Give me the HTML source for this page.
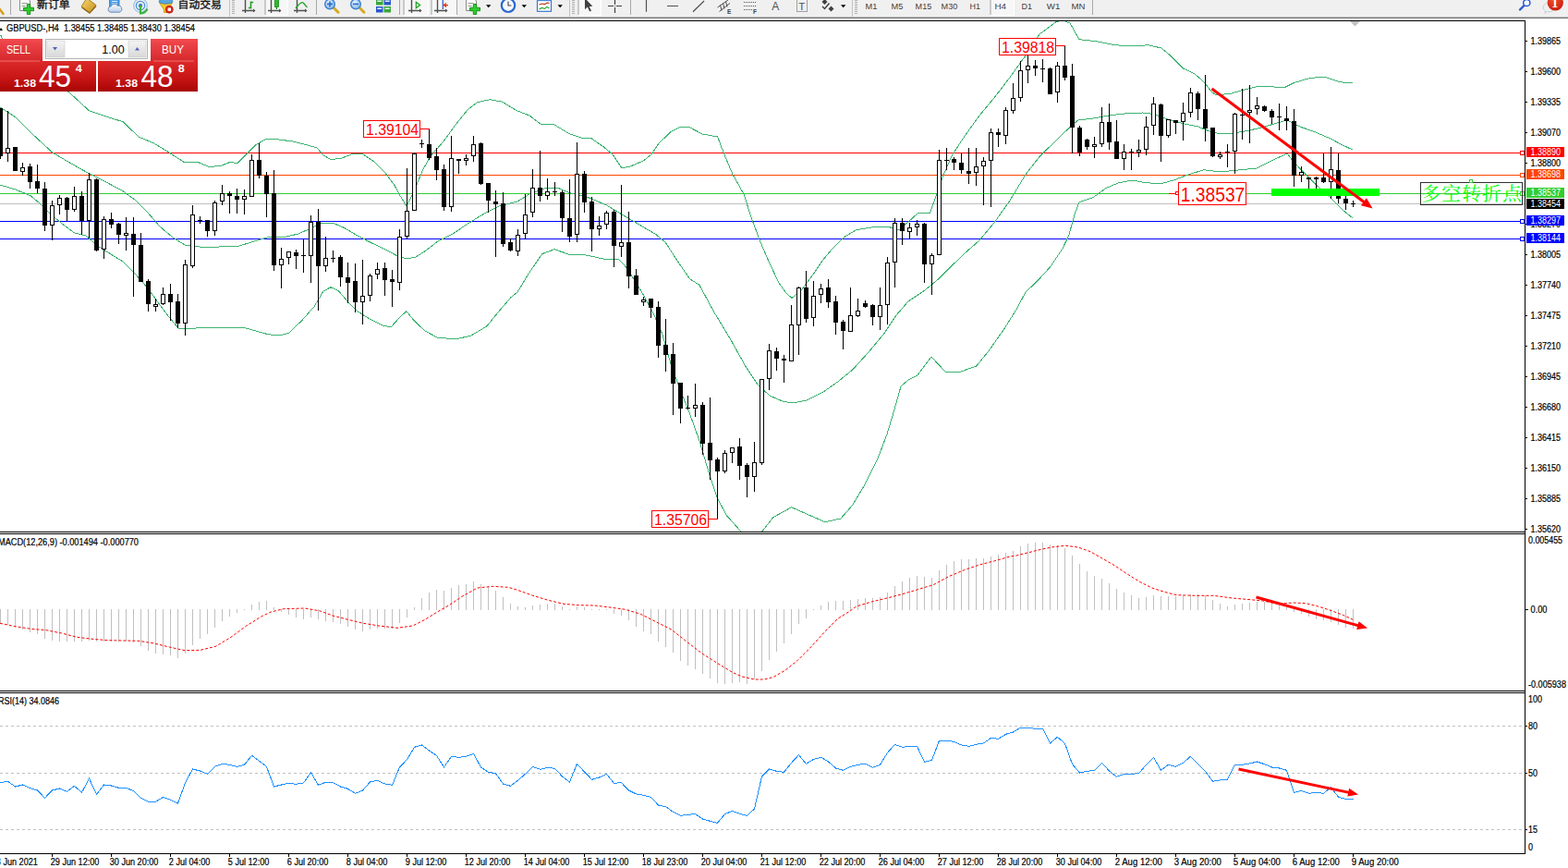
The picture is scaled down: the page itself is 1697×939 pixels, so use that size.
<!DOCTYPE html>
<html><head><meta charset="utf-8"><title>GBPUSD H4</title>
<style>
html,body{margin:0;padding:0;background:#fff;width:1697px;height:939px;overflow:hidden}
svg{position:absolute;left:0;top:0;display:block}
text{font-family:"Liberation Sans",sans-serif}
text.s{font-family:"Liberation Sans",sans-serif}
text.r{font-family:"Liberation Serif",serif}
text.c{font-family:"Liberation Sans","Noto Sans CJK SC",sans-serif}
text.cs{font-family:"Liberation Serif","Noto Serif CJK SC",serif}
</style></head><body>
<svg width="1697" height="939" viewBox="0 0 1697 939">
<rect x="0" y="0" width="1697" height="939" fill="#fff"/>
<g shape-rendering="crispEdges">
<rect x="0" y="22" width="1651" height="1" fill="#000"/>
<rect x="1650" y="22" width="1" height="902" fill="#000"/>
<rect x="0" y="575" width="1651" height="1" fill="#000"/>
<rect x="0" y="577" width="1651" height="1" fill="#000"/>
<rect x="0" y="747" width="1651" height="1" fill="#000"/>
<rect x="0" y="749" width="1651" height="1" fill="#000"/>
<rect x="0" y="923" width="1651" height="1" fill="#000"/>
<rect x="0" y="165" width="1650" height="1" fill="#ff0000"/>
<rect x="0" y="189" width="1650" height="1" fill="#ff4500"/>
<rect x="0" y="209" width="1650" height="1" fill="#32cd32"/>
<rect x="0" y="220" width="1650" height="1" fill="#c0c0c0"/>
<rect x="0" y="239" width="1650" height="1" fill="#0000ff"/>
<rect x="0" y="258" width="1650" height="1" fill="#0000ff"/>
</g>
<defs><clipPath id="mainclip"><rect x="0" y="23" width="1650" height="552"/></clipPath></defs><g id="bb" clip-path="url(#mainclip)">
<polyline points="-1.0,38.5 1.4,38.5 2.5,43.0 40.0,70.0 76.0,101.0 96.7,120.0 116.7,126.7 133.0,131.7 150.0,148.0 166.7,155.0 183.0,165.0 200.0,176.0 213.0,175.0 226.7,180.7 240.0,179.0 250.0,175.0 256.7,177.0 266.7,167.0 276.7,156.7 286.7,151.0 300.0,150.7 316.7,153.0 333.0,157.0 343.0,160.0 350.0,168.0 358.0,172.7 370.0,171.0 383.0,166.0 393.0,167.0 405.0,175.0 416.7,186.7 426.7,200.0 433.0,211.7 440.0,223.0 448.0,206.7 458.0,183.0 466.7,168.0 480.0,153.0 493.0,135.0 506.7,118.0 516.7,110.7 530.0,107.7 543.0,110.0 560.0,120.0 573.0,125.0 585.0,134.0 600.0,135.0 616.7,145.0 631.7,150.0 640.0,149.7 653.0,158.7 663.0,167.0 673.0,182.0 683.0,179.7 696.7,173.7 705.0,167.0 713.0,155.0 726.7,142.0 736.7,137.0 745.0,137.0 760.0,145.0 776.7,148.0 783.0,165.0 793.0,188.7 805.0,210.0 813.0,235.0 823.0,262.0 833.0,285.0 843.0,306.0 850.0,316.0 857.0,322.5 866.7,314.7 880.0,297.0 890.0,282.0 900.0,270.0 913.0,257.0 926.7,248.7 943.0,246.0 960.0,245.0 973.0,248.7 983.0,240.0 993.0,231.0 1006.7,230.0 1013.0,212.0 1020.0,192.0 1030.0,168.7 1043.0,148.7 1060.0,125.0 1076.7,105.0 1093.0,83.7 1110.0,60.0 1125.0,37.0 1143.0,23.7 1150.0,22.0 1158.0,25.0 1168.0,42.7 1186.7,44.7 1206.7,48.7 1226.7,50.0 1243.0,48.7 1256.7,52.0 1266.7,60.0 1280.0,73.7 1293.0,80.0 1303.0,88.7 1311.7,100.0 1316.7,103.0 1333.0,101.0 1346.7,97.0 1363.0,93.0 1390.0,94.7 1400.0,89.7 1416.7,84.7 1433.0,83.0 1450.0,88.7 1464.0,90.0" fill="none" stroke="#3cb371" stroke-width="1" shape-rendering="crispEdges"/>
<polyline points="0.0,116.0 16.7,126.7 33.0,143.0 56.7,165.0 76.7,176.7 96.7,188.0 116.7,198.0 133.0,206.7 146.7,216.7 160.0,230.0 173.0,245.0 186.7,256.7 200.0,265.0 213.0,266.7 226.7,268.0 240.0,266.7 256.7,266.7 273.0,261.7 290.0,256.7 306.7,256.7 323.0,253.0 336.7,246.7 346.7,241.7 360.0,241.0 373.0,246.7 386.7,255.0 400.0,261.7 416.7,270.0 430.0,276.7 440.0,280.0 450.0,278.0 460.0,271.7 473.0,261.7 490.0,253.0 506.7,241.7 523.0,231.7 540.0,223.0 560.0,218.0 573.0,210.0 590.0,203.7 603.0,203.0 616.7,208.7 636.7,213.7 656.7,222.0 673.0,232.0 693.0,243.7 710.0,253.7 720.0,262.0 733.0,282.0 746.7,302.0 756.7,308.0 773.0,338.0 790.0,366.0 806.7,396.0 820.0,416.0 833.0,428.0 846.7,434.0 858.0,436.0 873.0,433.0 890.0,424.7 906.7,413.0 923.0,399.7 940.0,381.0 956.7,361.0 970.0,341.0 983.0,326.0 1000.0,314.7 1016.7,301.0 1033.0,284.7 1043.0,275.0 1060.0,260.0 1076.7,240.0 1093.0,217.0 1110.0,188.7 1125.7,168.7 1143.0,152.0 1156.7,138.7 1166.7,130.0 1183.0,128.0 1200.0,125.0 1216.7,123.0 1236.7,122.0 1250.0,123.7 1263.0,128.7 1280.0,133.7 1296.7,137.0 1313.0,143.7 1330.0,145.0 1346.7,142.0 1363.0,138.7 1380.0,133.7 1393.0,130.0 1406.7,137.0 1423.0,142.7 1440.0,150.0 1453.0,157.0 1464.0,162.0" fill="none" stroke="#3cb371" stroke-width="1" shape-rendering="crispEdges"/>
<polyline points="0.0,200.0 16.7,205.0 33.0,211.7 43.0,220.0 53.0,230.0 66.7,241.7 80.0,251.7 93.0,255.0 106.7,266.7 120.0,275.0 133.0,283.0 146.7,296.7 160.0,311.7 173.0,330.0 183.0,343.0 193.0,355.0 206.7,355.7 220.0,354.0 233.0,355.0 250.0,354.0 263.0,354.0 276.7,358.0 290.0,361.7 303.0,363.0 313.0,360.0 326.7,346.7 340.0,331.7 350.0,315.0 358.0,310.7 366.7,315.0 376.7,326.7 386.7,336.7 400.0,345.0 413.0,351.7 423.0,354.0 433.0,343.0 440.0,336.7 448.0,346.7 460.0,358.0 473.0,365.0 493.0,367.0 510.0,363.0 526.7,353.0 540.0,336.7 553.0,321.7 560.0,316.0 573.0,294.7 586.7,274.7 600.0,269.7 618.0,276.0 633.0,275.7 653.0,280.0 670.0,281.0 676.7,288.0 686.7,303.0 696.7,319.7 706.7,338.0 716.7,361.0 726.7,396.0 736.7,423.0 746.7,448.0 756.7,476.0 766.7,509.7 776.7,539.7 786.7,558.0 801.7,574.7 813.0,580.0 825.0,574.7 836.7,559.7 856.7,548.7 873.0,556.0 893.0,564.7 910.0,561.0 923.0,546.0 936.7,523.0 950.0,496.0 960.0,469.7 968.0,443.0 975.0,418.0 983.0,411.0 993.0,406.0 1008.0,386.0 1023.0,402.0 1040.0,402.0 1056.7,396.0 1070.0,379.7 1086.7,356.0 1100.0,334.7 1110.0,316.0 1123.0,303.7 1136.7,288.7 1150.0,268.7 1156.7,255.0 1163.0,232.0 1168.0,218.7 1183.0,213.7 1196.7,203.7 1210.0,198.0 1225.0,195.0 1240.0,197.7 1256.7,198.7 1270.0,195.0 1286.7,188.7 1303.0,183.7 1320.0,186.0 1340.0,184.0 1360.0,182.0 1376.7,173.7 1393.0,166.0 1400.0,175.0 1413.0,188.7 1426.7,202.0 1440.0,213.7 1453.0,227.0 1464.0,236.0" fill="none" stroke="#3cb371" stroke-width="1" shape-rendering="crispEdges"/>
</g>
<g shape-rendering="crispEdges" id="candles">
<rect x="0" y="117" width="1" height="55" fill="#000"/>
<rect x="-2" y="117" width="5" height="52" fill="#000"/>
<rect x="8" y="120" width="1" height="55" fill="#000"/>
<rect x="6" y="160" width="5" height="6" fill="#000"/>
<rect x="7" y="161" width="3" height="4" fill="#fff"/>
<rect x="16" y="159" width="1" height="26" fill="#000"/>
<rect x="14" y="159" width="5" height="26" fill="#000"/>
<rect x="24" y="176" width="1" height="14" fill="#000"/>
<rect x="22" y="181" width="5" height="5" fill="#000"/>
<rect x="23" y="182" width="3" height="3" fill="#fff"/>
<rect x="32" y="177" width="1" height="27" fill="#000"/>
<rect x="30" y="180" width="5" height="17" fill="#000"/>
<rect x="40" y="178" width="1" height="31" fill="#000"/>
<rect x="38" y="196" width="5" height="8" fill="#000"/>
<rect x="48" y="197" width="1" height="53" fill="#000"/>
<rect x="46" y="204" width="5" height="40" fill="#000"/>
<rect x="56" y="217" width="1" height="43" fill="#000"/>
<rect x="54" y="222" width="5" height="22" fill="#000"/>
<rect x="55" y="223" width="3" height="20" fill="#fff"/>
<rect x="64" y="211" width="1" height="21" fill="#000"/>
<rect x="62" y="214" width="5" height="8" fill="#000"/>
<rect x="63" y="215" width="3" height="6" fill="#fff"/>
<rect x="72" y="213" width="1" height="26" fill="#000"/>
<rect x="70" y="214" width="5" height="13" fill="#000"/>
<rect x="80" y="202" width="1" height="27" fill="#000"/>
<rect x="78" y="212" width="5" height="15" fill="#000"/>
<rect x="79" y="213" width="3" height="13" fill="#fff"/>
<rect x="88" y="207" width="1" height="47" fill="#000"/>
<rect x="86" y="212" width="5" height="27" fill="#000"/>
<rect x="96" y="187" width="1" height="71" fill="#000"/>
<rect x="94" y="194" width="5" height="45" fill="#000"/>
<rect x="95" y="195" width="3" height="43" fill="#fff"/>
<rect x="104" y="193" width="1" height="79" fill="#000"/>
<rect x="102" y="194" width="5" height="77" fill="#000"/>
<rect x="112" y="234" width="1" height="46" fill="#000"/>
<rect x="110" y="237" width="5" height="33" fill="#000"/>
<rect x="111" y="238" width="3" height="31" fill="#fff"/>
<rect x="120" y="230" width="1" height="17" fill="#000"/>
<rect x="118" y="237" width="5" height="6" fill="#000"/>
<rect x="128" y="241" width="1" height="23" fill="#000"/>
<rect x="126" y="242" width="5" height="12" fill="#000"/>
<rect x="136" y="235" width="1" height="36" fill="#000"/>
<rect x="134" y="252" width="5" height="3" fill="#000"/>
<rect x="135" y="253" width="3" height="1" fill="#fff"/>
<rect x="144" y="235" width="1" height="86" fill="#000"/>
<rect x="142" y="253" width="5" height="12" fill="#000"/>
<rect x="152" y="252" width="1" height="53" fill="#000"/>
<rect x="150" y="265" width="5" height="40" fill="#000"/>
<rect x="160" y="302" width="1" height="35" fill="#000"/>
<rect x="158" y="304" width="5" height="25" fill="#000"/>
<rect x="168" y="323" width="1" height="14" fill="#000"/>
<rect x="166" y="329" width="5" height="3" fill="#000"/>
<rect x="167" y="330" width="3" height="1" fill="#fff"/>
<rect x="176" y="311" width="1" height="19" fill="#000"/>
<rect x="174" y="318" width="5" height="11" fill="#000"/>
<rect x="175" y="319" width="3" height="9" fill="#fff"/>
<rect x="184" y="307" width="1" height="40" fill="#000"/>
<rect x="182" y="318" width="5" height="9" fill="#000"/>
<rect x="192" y="318" width="1" height="37" fill="#000"/>
<rect x="190" y="326" width="5" height="24" fill="#000"/>
<rect x="200" y="281" width="1" height="82" fill="#000"/>
<rect x="198" y="286" width="5" height="64" fill="#000"/>
<rect x="199" y="287" width="3" height="62" fill="#fff"/>
<rect x="208" y="222" width="1" height="68" fill="#000"/>
<rect x="206" y="232" width="5" height="56" fill="#000"/>
<rect x="207" y="233" width="3" height="54" fill="#fff"/>
<rect x="216" y="234" width="1" height="8" fill="#000"/>
<rect x="214" y="238" width="5" height="1" fill="#000"/>
<rect x="224" y="238" width="1" height="18" fill="#000"/>
<rect x="222" y="238" width="5" height="12" fill="#000"/>
<rect x="232" y="217" width="1" height="38" fill="#000"/>
<rect x="230" y="219" width="5" height="31" fill="#000"/>
<rect x="231" y="220" width="3" height="29" fill="#fff"/>
<rect x="240" y="200" width="1" height="22" fill="#000"/>
<rect x="238" y="209" width="5" height="9" fill="#000"/>
<rect x="239" y="210" width="3" height="7" fill="#fff"/>
<rect x="248" y="207" width="1" height="24" fill="#000"/>
<rect x="246" y="209" width="5" height="3" fill="#000"/>
<rect x="256" y="204" width="1" height="27" fill="#000"/>
<rect x="254" y="212" width="5" height="4" fill="#000"/>
<rect x="264" y="205" width="1" height="27" fill="#000"/>
<rect x="262" y="212" width="5" height="4" fill="#000"/>
<rect x="263" y="213" width="3" height="2" fill="#fff"/>
<rect x="272" y="167" width="1" height="46" fill="#000"/>
<rect x="270" y="173" width="5" height="40" fill="#000"/>
<rect x="271" y="174" width="3" height="38" fill="#fff"/>
<rect x="280" y="155" width="1" height="38" fill="#000"/>
<rect x="278" y="173" width="5" height="17" fill="#000"/>
<rect x="288" y="186" width="1" height="49" fill="#000"/>
<rect x="286" y="190" width="5" height="20" fill="#000"/>
<rect x="296" y="184" width="1" height="109" fill="#000"/>
<rect x="294" y="209" width="5" height="78" fill="#000"/>
<rect x="304" y="268" width="1" height="44" fill="#000"/>
<rect x="302" y="280" width="5" height="7" fill="#000"/>
<rect x="303" y="281" width="3" height="5" fill="#fff"/>
<rect x="312" y="272" width="1" height="14" fill="#000"/>
<rect x="310" y="272" width="5" height="7" fill="#000"/>
<rect x="311" y="273" width="3" height="5" fill="#fff"/>
<rect x="320" y="270" width="1" height="21" fill="#000"/>
<rect x="318" y="273" width="5" height="4" fill="#000"/>
<rect x="328" y="259" width="1" height="36" fill="#000"/>
<rect x="326" y="276" width="5" height="1" fill="#000"/>
<rect x="336" y="233" width="1" height="73" fill="#000"/>
<rect x="334" y="240" width="5" height="37" fill="#000"/>
<rect x="335" y="241" width="3" height="35" fill="#fff"/>
<rect x="344" y="226" width="1" height="110" fill="#000"/>
<rect x="342" y="240" width="5" height="48" fill="#000"/>
<rect x="352" y="256" width="1" height="38" fill="#000"/>
<rect x="350" y="279" width="5" height="9" fill="#000"/>
<rect x="351" y="280" width="3" height="7" fill="#fff"/>
<rect x="360" y="271" width="1" height="13" fill="#000"/>
<rect x="358" y="279" width="5" height="1" fill="#000"/>
<rect x="368" y="276" width="1" height="34" fill="#000"/>
<rect x="366" y="278" width="5" height="22" fill="#000"/>
<rect x="376" y="284" width="1" height="44" fill="#000"/>
<rect x="374" y="300" width="5" height="6" fill="#000"/>
<rect x="384" y="285" width="1" height="53" fill="#000"/>
<rect x="382" y="304" width="5" height="23" fill="#000"/>
<rect x="392" y="281" width="1" height="70" fill="#000"/>
<rect x="390" y="320" width="5" height="7" fill="#000"/>
<rect x="391" y="321" width="3" height="5" fill="#fff"/>
<rect x="400" y="296" width="1" height="30" fill="#000"/>
<rect x="398" y="298" width="5" height="22" fill="#000"/>
<rect x="399" y="299" width="3" height="20" fill="#fff"/>
<rect x="408" y="284" width="1" height="18" fill="#000"/>
<rect x="406" y="291" width="5" height="6" fill="#000"/>
<rect x="407" y="292" width="3" height="4" fill="#fff"/>
<rect x="416" y="284" width="1" height="36" fill="#000"/>
<rect x="414" y="290" width="5" height="13" fill="#000"/>
<rect x="424" y="292" width="1" height="40" fill="#000"/>
<rect x="422" y="302" width="5" height="3" fill="#000"/>
<rect x="432" y="248" width="1" height="66" fill="#000"/>
<rect x="430" y="256" width="5" height="50" fill="#000"/>
<rect x="431" y="257" width="3" height="48" fill="#fff"/>
<rect x="440" y="182" width="1" height="76" fill="#000"/>
<rect x="438" y="228" width="5" height="28" fill="#000"/>
<rect x="439" y="229" width="3" height="26" fill="#fff"/>
<rect x="448" y="165" width="1" height="63" fill="#000"/>
<rect x="446" y="166" width="5" height="62" fill="#000"/>
<rect x="447" y="167" width="3" height="60" fill="#fff"/>
<rect x="456" y="151" width="1" height="9" fill="#000"/>
<rect x="454" y="155" width="5" height="1" fill="#000"/>
<rect x="464" y="140" width="1" height="33" fill="#000"/>
<rect x="462" y="156" width="5" height="15" fill="#000"/>
<rect x="472" y="160" width="1" height="35" fill="#000"/>
<rect x="470" y="169" width="5" height="15" fill="#000"/>
<rect x="480" y="178" width="1" height="50" fill="#000"/>
<rect x="478" y="183" width="5" height="41" fill="#000"/>
<rect x="488" y="147" width="1" height="82" fill="#000"/>
<rect x="486" y="171" width="5" height="53" fill="#000"/>
<rect x="487" y="172" width="3" height="51" fill="#fff"/>
<rect x="496" y="172" width="1" height="16" fill="#000"/>
<rect x="494" y="172" width="5" height="2" fill="#000"/>
<rect x="504" y="167" width="1" height="12" fill="#000"/>
<rect x="502" y="171" width="5" height="3" fill="#000"/>
<rect x="503" y="172" width="3" height="1" fill="#fff"/>
<rect x="512" y="147" width="1" height="28" fill="#000"/>
<rect x="510" y="156" width="5" height="13" fill="#000"/>
<rect x="511" y="157" width="3" height="11" fill="#fff"/>
<rect x="520" y="154" width="1" height="46" fill="#000"/>
<rect x="518" y="155" width="5" height="44" fill="#000"/>
<rect x="528" y="198" width="1" height="32" fill="#000"/>
<rect x="526" y="198" width="5" height="19" fill="#000"/>
<rect x="536" y="206" width="1" height="72" fill="#000"/>
<rect x="534" y="218" width="5" height="3" fill="#000"/>
<rect x="544" y="208" width="1" height="59" fill="#000"/>
<rect x="542" y="220" width="5" height="44" fill="#000"/>
<rect x="552" y="258" width="1" height="14" fill="#000"/>
<rect x="550" y="262" width="5" height="9" fill="#000"/>
<rect x="560" y="248" width="1" height="29" fill="#000"/>
<rect x="558" y="254" width="5" height="18" fill="#000"/>
<rect x="559" y="255" width="3" height="16" fill="#fff"/>
<rect x="568" y="210" width="1" height="49" fill="#000"/>
<rect x="566" y="232" width="5" height="21" fill="#000"/>
<rect x="567" y="233" width="3" height="19" fill="#fff"/>
<rect x="576" y="183" width="1" height="52" fill="#000"/>
<rect x="574" y="203" width="5" height="27" fill="#000"/>
<rect x="575" y="204" width="3" height="25" fill="#fff"/>
<rect x="584" y="163" width="1" height="55" fill="#000"/>
<rect x="582" y="203" width="5" height="9" fill="#000"/>
<rect x="592" y="193" width="1" height="23" fill="#000"/>
<rect x="590" y="207" width="5" height="5" fill="#000"/>
<rect x="591" y="208" width="3" height="3" fill="#fff"/>
<rect x="600" y="197" width="1" height="15" fill="#000"/>
<rect x="598" y="207" width="5" height="1" fill="#000"/>
<rect x="608" y="206" width="1" height="45" fill="#000"/>
<rect x="606" y="208" width="5" height="28" fill="#000"/>
<rect x="616" y="194" width="1" height="68" fill="#000"/>
<rect x="614" y="236" width="5" height="20" fill="#000"/>
<rect x="624" y="154" width="1" height="108" fill="#000"/>
<rect x="622" y="188" width="5" height="66" fill="#000"/>
<rect x="623" y="189" width="3" height="64" fill="#fff"/>
<rect x="632" y="185" width="1" height="45" fill="#000"/>
<rect x="630" y="188" width="5" height="31" fill="#000"/>
<rect x="640" y="213" width="1" height="59" fill="#000"/>
<rect x="638" y="218" width="5" height="30" fill="#000"/>
<rect x="648" y="234" width="1" height="21" fill="#000"/>
<rect x="646" y="244" width="5" height="4" fill="#000"/>
<rect x="647" y="245" width="3" height="2" fill="#fff"/>
<rect x="656" y="228" width="1" height="20" fill="#000"/>
<rect x="654" y="230" width="5" height="13" fill="#000"/>
<rect x="655" y="231" width="3" height="11" fill="#fff"/>
<rect x="664" y="227" width="1" height="62" fill="#000"/>
<rect x="662" y="229" width="5" height="37" fill="#000"/>
<rect x="672" y="200" width="1" height="78" fill="#000"/>
<rect x="670" y="262" width="5" height="5" fill="#000"/>
<rect x="671" y="263" width="3" height="3" fill="#fff"/>
<rect x="680" y="229" width="1" height="83" fill="#000"/>
<rect x="678" y="262" width="5" height="37" fill="#000"/>
<rect x="688" y="291" width="1" height="28" fill="#000"/>
<rect x="686" y="298" width="5" height="21" fill="#000"/>
<rect x="696" y="321" width="1" height="10" fill="#000"/>
<rect x="694" y="324" width="5" height="3" fill="#000"/>
<rect x="695" y="325" width="3" height="1" fill="#fff"/>
<rect x="704" y="323" width="1" height="21" fill="#000"/>
<rect x="702" y="323" width="5" height="10" fill="#000"/>
<rect x="712" y="326" width="1" height="61" fill="#000"/>
<rect x="710" y="332" width="5" height="42" fill="#000"/>
<rect x="720" y="345" width="1" height="57" fill="#000"/>
<rect x="718" y="373" width="5" height="11" fill="#000"/>
<rect x="728" y="371" width="1" height="78" fill="#000"/>
<rect x="726" y="383" width="5" height="32" fill="#000"/>
<rect x="736" y="414" width="1" height="44" fill="#000"/>
<rect x="734" y="414" width="5" height="28" fill="#000"/>
<rect x="744" y="428" width="1" height="15" fill="#000"/>
<rect x="742" y="441" width="5" height="1" fill="#000"/>
<rect x="752" y="415" width="1" height="36" fill="#000"/>
<rect x="750" y="438" width="5" height="4" fill="#000"/>
<rect x="751" y="439" width="3" height="2" fill="#fff"/>
<rect x="760" y="435" width="1" height="57" fill="#000"/>
<rect x="758" y="438" width="5" height="42" fill="#000"/>
<rect x="768" y="430" width="1" height="89" fill="#000"/>
<rect x="766" y="479" width="5" height="19" fill="#000"/>
<rect x="776" y="495" width="1" height="67" fill="#000"/>
<rect x="774" y="497" width="5" height="13" fill="#000"/>
<rect x="784" y="487" width="1" height="25" fill="#000"/>
<rect x="782" y="490" width="5" height="20" fill="#000"/>
<rect x="783" y="491" width="3" height="18" fill="#fff"/>
<rect x="792" y="484" width="1" height="17" fill="#000"/>
<rect x="790" y="484" width="5" height="6" fill="#000"/>
<rect x="791" y="485" width="3" height="4" fill="#fff"/>
<rect x="800" y="474" width="1" height="45" fill="#000"/>
<rect x="798" y="483" width="5" height="21" fill="#000"/>
<rect x="808" y="501" width="1" height="37" fill="#000"/>
<rect x="806" y="503" width="5" height="13" fill="#000"/>
<rect x="816" y="478" width="1" height="54" fill="#000"/>
<rect x="814" y="500" width="5" height="16" fill="#000"/>
<rect x="815" y="501" width="3" height="14" fill="#fff"/>
<rect x="824" y="410" width="1" height="93" fill="#000"/>
<rect x="822" y="410" width="5" height="91" fill="#000"/>
<rect x="823" y="411" width="3" height="89" fill="#fff"/>
<rect x="832" y="372" width="1" height="50" fill="#000"/>
<rect x="830" y="379" width="5" height="31" fill="#000"/>
<rect x="831" y="380" width="3" height="29" fill="#fff"/>
<rect x="840" y="376" width="1" height="25" fill="#000"/>
<rect x="838" y="380" width="5" height="8" fill="#000"/>
<rect x="848" y="384" width="1" height="30" fill="#000"/>
<rect x="846" y="388" width="5" height="2" fill="#000"/>
<rect x="856" y="330" width="1" height="61" fill="#000"/>
<rect x="854" y="351" width="5" height="40" fill="#000"/>
<rect x="855" y="352" width="3" height="38" fill="#fff"/>
<rect x="864" y="310" width="1" height="74" fill="#000"/>
<rect x="862" y="311" width="5" height="41" fill="#000"/>
<rect x="863" y="312" width="3" height="39" fill="#fff"/>
<rect x="872" y="293" width="1" height="56" fill="#000"/>
<rect x="870" y="311" width="5" height="34" fill="#000"/>
<rect x="880" y="304" width="1" height="49" fill="#000"/>
<rect x="878" y="320" width="5" height="24" fill="#000"/>
<rect x="879" y="321" width="3" height="22" fill="#fff"/>
<rect x="888" y="307" width="1" height="21" fill="#000"/>
<rect x="886" y="312" width="5" height="7" fill="#000"/>
<rect x="887" y="313" width="3" height="5" fill="#fff"/>
<rect x="896" y="302" width="1" height="31" fill="#000"/>
<rect x="894" y="311" width="5" height="16" fill="#000"/>
<rect x="904" y="320" width="1" height="42" fill="#000"/>
<rect x="902" y="326" width="5" height="23" fill="#000"/>
<rect x="912" y="346" width="1" height="32" fill="#000"/>
<rect x="910" y="348" width="5" height="10" fill="#000"/>
<rect x="920" y="311" width="1" height="48" fill="#000"/>
<rect x="918" y="341" width="5" height="18" fill="#000"/>
<rect x="919" y="342" width="3" height="16" fill="#fff"/>
<rect x="928" y="323" width="1" height="20" fill="#000"/>
<rect x="926" y="336" width="5" height="6" fill="#000"/>
<rect x="927" y="337" width="3" height="4" fill="#fff"/>
<rect x="936" y="325" width="1" height="8" fill="#000"/>
<rect x="934" y="328" width="5" height="4" fill="#000"/>
<rect x="944" y="329" width="1" height="23" fill="#000"/>
<rect x="942" y="330" width="5" height="13" fill="#000"/>
<rect x="952" y="311" width="1" height="46" fill="#000"/>
<rect x="950" y="330" width="5" height="13" fill="#000"/>
<rect x="951" y="331" width="3" height="11" fill="#fff"/>
<rect x="960" y="278" width="1" height="73" fill="#000"/>
<rect x="958" y="284" width="5" height="46" fill="#000"/>
<rect x="959" y="285" width="3" height="44" fill="#fff"/>
<rect x="968" y="236" width="1" height="75" fill="#000"/>
<rect x="966" y="241" width="5" height="43" fill="#000"/>
<rect x="967" y="242" width="3" height="41" fill="#fff"/>
<rect x="976" y="236" width="1" height="29" fill="#000"/>
<rect x="974" y="241" width="5" height="9" fill="#000"/>
<rect x="984" y="241" width="1" height="18" fill="#000"/>
<rect x="982" y="246" width="5" height="5" fill="#000"/>
<rect x="983" y="247" width="3" height="3" fill="#fff"/>
<rect x="992" y="238" width="1" height="17" fill="#000"/>
<rect x="990" y="242" width="5" height="4" fill="#000"/>
<rect x="991" y="243" width="3" height="2" fill="#fff"/>
<rect x="1000" y="241" width="1" height="65" fill="#000"/>
<rect x="998" y="242" width="5" height="44" fill="#000"/>
<rect x="1008" y="274" width="1" height="45" fill="#000"/>
<rect x="1006" y="276" width="5" height="10" fill="#000"/>
<rect x="1007" y="277" width="3" height="8" fill="#fff"/>
<rect x="1016" y="162" width="1" height="114" fill="#000"/>
<rect x="1014" y="173" width="5" height="103" fill="#000"/>
<rect x="1015" y="174" width="3" height="101" fill="#fff"/>
<rect x="1024" y="160" width="1" height="24" fill="#000"/>
<rect x="1022" y="173" width="5" height="1" fill="#000"/>
<rect x="1032" y="170" width="1" height="14" fill="#000"/>
<rect x="1030" y="172" width="5" height="4" fill="#000"/>
<rect x="1040" y="166" width="1" height="22" fill="#000"/>
<rect x="1038" y="176" width="5" height="8" fill="#000"/>
<rect x="1048" y="160" width="1" height="39" fill="#000"/>
<rect x="1046" y="185" width="5" height="3" fill="#000"/>
<rect x="1056" y="160" width="1" height="41" fill="#000"/>
<rect x="1054" y="180" width="5" height="7" fill="#000"/>
<rect x="1055" y="181" width="3" height="5" fill="#fff"/>
<rect x="1064" y="170" width="1" height="52" fill="#000"/>
<rect x="1062" y="174" width="5" height="6" fill="#000"/>
<rect x="1063" y="175" width="3" height="4" fill="#fff"/>
<rect x="1072" y="139" width="1" height="85" fill="#000"/>
<rect x="1070" y="143" width="5" height="31" fill="#000"/>
<rect x="1071" y="144" width="3" height="29" fill="#fff"/>
<rect x="1080" y="139" width="1" height="20" fill="#000"/>
<rect x="1078" y="143" width="5" height="3" fill="#000"/>
<rect x="1088" y="116" width="1" height="40" fill="#000"/>
<rect x="1086" y="119" width="5" height="28" fill="#000"/>
<rect x="1087" y="120" width="3" height="26" fill="#fff"/>
<rect x="1096" y="90" width="1" height="33" fill="#000"/>
<rect x="1094" y="106" width="5" height="14" fill="#000"/>
<rect x="1095" y="107" width="3" height="12" fill="#fff"/>
<rect x="1104" y="66" width="1" height="44" fill="#000"/>
<rect x="1102" y="76" width="5" height="30" fill="#000"/>
<rect x="1103" y="77" width="3" height="28" fill="#fff"/>
<rect x="1112" y="50" width="1" height="40" fill="#000"/>
<rect x="1110" y="71" width="5" height="5" fill="#000"/>
<rect x="1111" y="72" width="3" height="3" fill="#fff"/>
<rect x="1120" y="65" width="1" height="17" fill="#000"/>
<rect x="1118" y="71" width="5" height="3" fill="#000"/>
<rect x="1128" y="64" width="1" height="25" fill="#000"/>
<rect x="1126" y="74" width="5" height="1" fill="#000"/>
<rect x="1136" y="73" width="1" height="29" fill="#000"/>
<rect x="1134" y="74" width="5" height="28" fill="#000"/>
<rect x="1144" y="67" width="1" height="44" fill="#000"/>
<rect x="1142" y="71" width="5" height="29" fill="#000"/>
<rect x="1143" y="72" width="3" height="27" fill="#fff"/>
<rect x="1152" y="50" width="1" height="37" fill="#000"/>
<rect x="1150" y="71" width="5" height="13" fill="#000"/>
<rect x="1160" y="69" width="1" height="97" fill="#000"/>
<rect x="1158" y="82" width="5" height="56" fill="#000"/>
<rect x="1168" y="136" width="1" height="33" fill="#000"/>
<rect x="1166" y="138" width="5" height="27" fill="#000"/>
<rect x="1176" y="150" width="1" height="12" fill="#000"/>
<rect x="1174" y="151" width="5" height="8" fill="#000"/>
<rect x="1184" y="148" width="1" height="23" fill="#000"/>
<rect x="1182" y="156" width="5" height="3" fill="#000"/>
<rect x="1183" y="157" width="3" height="1" fill="#fff"/>
<rect x="1192" y="116" width="1" height="43" fill="#000"/>
<rect x="1190" y="132" width="5" height="24" fill="#000"/>
<rect x="1191" y="133" width="3" height="22" fill="#fff"/>
<rect x="1200" y="112" width="1" height="50" fill="#000"/>
<rect x="1198" y="132" width="5" height="22" fill="#000"/>
<rect x="1208" y="130" width="1" height="42" fill="#000"/>
<rect x="1206" y="153" width="5" height="19" fill="#000"/>
<rect x="1216" y="156" width="1" height="28" fill="#000"/>
<rect x="1214" y="164" width="5" height="8" fill="#000"/>
<rect x="1215" y="165" width="3" height="6" fill="#fff"/>
<rect x="1224" y="161" width="1" height="23" fill="#000"/>
<rect x="1222" y="164" width="5" height="1" fill="#000"/>
<rect x="1232" y="151" width="1" height="19" fill="#000"/>
<rect x="1230" y="162" width="5" height="3" fill="#000"/>
<rect x="1231" y="163" width="3" height="1" fill="#fff"/>
<rect x="1240" y="126" width="1" height="42" fill="#000"/>
<rect x="1238" y="137" width="5" height="25" fill="#000"/>
<rect x="1239" y="138" width="3" height="23" fill="#fff"/>
<rect x="1248" y="105" width="1" height="41" fill="#000"/>
<rect x="1246" y="112" width="5" height="24" fill="#000"/>
<rect x="1247" y="113" width="3" height="22" fill="#fff"/>
<rect x="1256" y="112" width="1" height="63" fill="#000"/>
<rect x="1254" y="113" width="5" height="34" fill="#000"/>
<rect x="1264" y="129" width="1" height="20" fill="#000"/>
<rect x="1262" y="129" width="5" height="18" fill="#000"/>
<rect x="1263" y="130" width="3" height="16" fill="#fff"/>
<rect x="1272" y="130" width="1" height="15" fill="#000"/>
<rect x="1270" y="130" width="5" height="3" fill="#000"/>
<rect x="1280" y="111" width="1" height="41" fill="#000"/>
<rect x="1278" y="122" width="5" height="10" fill="#000"/>
<rect x="1279" y="123" width="3" height="8" fill="#fff"/>
<rect x="1288" y="95" width="1" height="32" fill="#000"/>
<rect x="1286" y="100" width="5" height="22" fill="#000"/>
<rect x="1287" y="101" width="3" height="20" fill="#fff"/>
<rect x="1296" y="99" width="1" height="31" fill="#000"/>
<rect x="1294" y="101" width="5" height="17" fill="#000"/>
<rect x="1304" y="81" width="1" height="72" fill="#000"/>
<rect x="1302" y="118" width="5" height="21" fill="#000"/>
<rect x="1312" y="138" width="1" height="32" fill="#000"/>
<rect x="1310" y="138" width="5" height="31" fill="#000"/>
<rect x="1320" y="164" width="1" height="8" fill="#000"/>
<rect x="1318" y="167" width="5" height="3" fill="#000"/>
<rect x="1319" y="168" width="3" height="1" fill="#fff"/>
<rect x="1328" y="156" width="1" height="25" fill="#000"/>
<rect x="1326" y="164" width="5" height="1" fill="#000"/>
<rect x="1336" y="122" width="1" height="66" fill="#000"/>
<rect x="1334" y="123" width="5" height="41" fill="#000"/>
<rect x="1335" y="124" width="3" height="39" fill="#fff"/>
<rect x="1344" y="96" width="1" height="55" fill="#000"/>
<rect x="1342" y="124" width="5" height="1" fill="#000"/>
<rect x="1352" y="92" width="1" height="63" fill="#000"/>
<rect x="1350" y="119" width="5" height="3" fill="#000"/>
<rect x="1351" y="120" width="3" height="1" fill="#fff"/>
<rect x="1360" y="105" width="1" height="19" fill="#000"/>
<rect x="1358" y="114" width="5" height="4" fill="#000"/>
<rect x="1359" y="115" width="3" height="2" fill="#fff"/>
<rect x="1368" y="114" width="1" height="7" fill="#000"/>
<rect x="1366" y="115" width="5" height="5" fill="#000"/>
<rect x="1376" y="118" width="1" height="16" fill="#000"/>
<rect x="1374" y="120" width="5" height="7" fill="#000"/>
<rect x="1384" y="112" width="1" height="29" fill="#000"/>
<rect x="1382" y="126" width="5" height="1" fill="#000"/>
<rect x="1392" y="115" width="1" height="26" fill="#000"/>
<rect x="1390" y="128" width="5" height="3" fill="#000"/>
<rect x="1400" y="118" width="1" height="84" fill="#000"/>
<rect x="1398" y="131" width="5" height="59" fill="#000"/>
<rect x="1408" y="180" width="1" height="17" fill="#000"/>
<rect x="1406" y="186" width="5" height="4" fill="#000"/>
<rect x="1407" y="187" width="3" height="2" fill="#fff"/>
<rect x="1416" y="192" width="1" height="12" fill="#000"/>
<rect x="1414" y="192" width="5" height="2" fill="#000"/>
<rect x="1424" y="191" width="1" height="13" fill="#000"/>
<rect x="1422" y="192" width="5" height="2" fill="#000"/>
<rect x="1432" y="166" width="1" height="32" fill="#000"/>
<rect x="1430" y="192" width="5" height="5" fill="#000"/>
<rect x="1440" y="159" width="1" height="56" fill="#000"/>
<rect x="1438" y="183" width="5" height="14" fill="#000"/>
<rect x="1439" y="184" width="3" height="12" fill="#fff"/>
<rect x="1448" y="166" width="1" height="54" fill="#000"/>
<rect x="1446" y="184" width="5" height="31" fill="#000"/>
<rect x="1456" y="212" width="1" height="15" fill="#000"/>
<rect x="1454" y="215" width="5" height="5" fill="#000"/>
<rect x="1464" y="217" width="1" height="7" fill="#000"/>
<rect x="1462" y="220" width="5" height="1" fill="#000"/>
</g>
<g shape-rendering="crispEdges" id="macd">
<rect x="0" y="659" width="1" height="15" fill="#c0c0c0"/>
<rect x="8" y="659" width="1" height="17" fill="#c0c0c0"/>
<rect x="16" y="659" width="1" height="20" fill="#c0c0c0"/>
<rect x="24" y="659" width="1" height="22" fill="#c0c0c0"/>
<rect x="32" y="659" width="1" height="25" fill="#c0c0c0"/>
<rect x="40" y="659" width="1" height="27" fill="#c0c0c0"/>
<rect x="48" y="659" width="1" height="32" fill="#c0c0c0"/>
<rect x="56" y="659" width="1" height="34" fill="#c0c0c0"/>
<rect x="64" y="659" width="1" height="35" fill="#c0c0c0"/>
<rect x="72" y="659" width="1" height="35" fill="#c0c0c0"/>
<rect x="80" y="659" width="1" height="35" fill="#c0c0c0"/>
<rect x="88" y="659" width="1" height="35" fill="#c0c0c0"/>
<rect x="96" y="659" width="1" height="34" fill="#c0c0c0"/>
<rect x="104" y="659" width="1" height="35" fill="#c0c0c0"/>
<rect x="112" y="659" width="1" height="35" fill="#c0c0c0"/>
<rect x="120" y="659" width="1" height="35" fill="#c0c0c0"/>
<rect x="128" y="659" width="1" height="35" fill="#c0c0c0"/>
<rect x="136" y="659" width="1" height="35" fill="#c0c0c0"/>
<rect x="144" y="659" width="1" height="36" fill="#c0c0c0"/>
<rect x="152" y="659" width="1" height="40" fill="#c0c0c0"/>
<rect x="160" y="659" width="1" height="45" fill="#c0c0c0"/>
<rect x="168" y="659" width="1" height="48" fill="#c0c0c0"/>
<rect x="176" y="659" width="1" height="49" fill="#c0c0c0"/>
<rect x="184" y="659" width="1" height="50" fill="#c0c0c0"/>
<rect x="192" y="659" width="1" height="53" fill="#c0c0c0"/>
<rect x="200" y="659" width="1" height="48" fill="#c0c0c0"/>
<rect x="208" y="659" width="1" height="39" fill="#c0c0c0"/>
<rect x="216" y="659" width="1" height="32" fill="#c0c0c0"/>
<rect x="224" y="659" width="1" height="27" fill="#c0c0c0"/>
<rect x="232" y="659" width="1" height="20" fill="#c0c0c0"/>
<rect x="240" y="659" width="1" height="13" fill="#c0c0c0"/>
<rect x="248" y="659" width="1" height="8" fill="#c0c0c0"/>
<rect x="256" y="659" width="1" height="4" fill="#c0c0c0"/>
<rect x="264" y="659" width="1" height="1" fill="#c0c0c0"/>
<rect x="272" y="654" width="1" height="6" fill="#c0c0c0"/>
<rect x="280" y="651" width="1" height="9" fill="#c0c0c0"/>
<rect x="288" y="650" width="1" height="10" fill="#c0c0c0"/>
<rect x="296" y="657" width="1" height="3" fill="#c0c0c0"/>
<rect x="304" y="659" width="1" height="3" fill="#c0c0c0"/>
<rect x="312" y="659" width="1" height="6" fill="#c0c0c0"/>
<rect x="320" y="659" width="1" height="9" fill="#c0c0c0"/>
<rect x="328" y="659" width="1" height="11" fill="#c0c0c0"/>
<rect x="336" y="659" width="1" height="9" fill="#c0c0c0"/>
<rect x="344" y="659" width="1" height="11" fill="#c0c0c0"/>
<rect x="352" y="659" width="1" height="13" fill="#c0c0c0"/>
<rect x="360" y="659" width="1" height="14" fill="#c0c0c0"/>
<rect x="368" y="659" width="1" height="16" fill="#c0c0c0"/>
<rect x="376" y="659" width="1" height="19" fill="#c0c0c0"/>
<rect x="384" y="659" width="1" height="22" fill="#c0c0c0"/>
<rect x="392" y="659" width="1" height="24" fill="#c0c0c0"/>
<rect x="400" y="659" width="1" height="22" fill="#c0c0c0"/>
<rect x="408" y="659" width="1" height="21" fill="#c0c0c0"/>
<rect x="416" y="659" width="1" height="21" fill="#c0c0c0"/>
<rect x="424" y="659" width="1" height="21" fill="#c0c0c0"/>
<rect x="432" y="659" width="1" height="15" fill="#c0c0c0"/>
<rect x="440" y="659" width="1" height="9" fill="#c0c0c0"/>
<rect x="448" y="657" width="1" height="3" fill="#c0c0c0"/>
<rect x="456" y="647" width="1" height="13" fill="#c0c0c0"/>
<rect x="464" y="641" width="1" height="19" fill="#c0c0c0"/>
<rect x="472" y="638" width="1" height="22" fill="#c0c0c0"/>
<rect x="480" y="639" width="1" height="21" fill="#c0c0c0"/>
<rect x="488" y="636" width="1" height="24" fill="#c0c0c0"/>
<rect x="496" y="633" width="1" height="27" fill="#c0c0c0"/>
<rect x="504" y="632" width="1" height="28" fill="#c0c0c0"/>
<rect x="512" y="629" width="1" height="31" fill="#c0c0c0"/>
<rect x="520" y="632" width="1" height="28" fill="#c0c0c0"/>
<rect x="528" y="635" width="1" height="25" fill="#c0c0c0"/>
<rect x="536" y="639" width="1" height="21" fill="#c0c0c0"/>
<rect x="544" y="646" width="1" height="14" fill="#c0c0c0"/>
<rect x="552" y="653" width="1" height="7" fill="#c0c0c0"/>
<rect x="560" y="656" width="1" height="4" fill="#c0c0c0"/>
<rect x="568" y="657" width="1" height="3" fill="#c0c0c0"/>
<rect x="576" y="655" width="1" height="5" fill="#c0c0c0"/>
<rect x="584" y="654" width="1" height="6" fill="#c0c0c0"/>
<rect x="592" y="653" width="1" height="7" fill="#c0c0c0"/>
<rect x="600" y="653" width="1" height="7" fill="#c0c0c0"/>
<rect x="608" y="656" width="1" height="4" fill="#c0c0c0"/>
<rect x="616" y="659" width="1" height="1" fill="#c0c0c0"/>
<rect x="624" y="656" width="1" height="4" fill="#c0c0c0"/>
<rect x="632" y="657" width="1" height="3" fill="#c0c0c0"/>
<rect x="640" y="659" width="1" height="1" fill="#c0c0c0"/>
<rect x="648" y="659" width="1" height="1" fill="#c0c0c0"/>
<rect x="656" y="659" width="1" height="1" fill="#c0c0c0"/>
<rect x="664" y="659" width="1" height="5" fill="#c0c0c0"/>
<rect x="672" y="659" width="1" height="7" fill="#c0c0c0"/>
<rect x="680" y="659" width="1" height="12" fill="#c0c0c0"/>
<rect x="688" y="659" width="1" height="19" fill="#c0c0c0"/>
<rect x="696" y="659" width="1" height="24" fill="#c0c0c0"/>
<rect x="704" y="659" width="1" height="27" fill="#c0c0c0"/>
<rect x="712" y="659" width="1" height="35" fill="#c0c0c0"/>
<rect x="720" y="659" width="1" height="41" fill="#c0c0c0"/>
<rect x="728" y="659" width="1" height="47" fill="#c0c0c0"/>
<rect x="736" y="659" width="1" height="56" fill="#c0c0c0"/>
<rect x="744" y="659" width="1" height="61" fill="#c0c0c0"/>
<rect x="752" y="659" width="1" height="65" fill="#c0c0c0"/>
<rect x="760" y="659" width="1" height="70" fill="#c0c0c0"/>
<rect x="768" y="659" width="1" height="75" fill="#c0c0c0"/>
<rect x="776" y="659" width="1" height="80" fill="#c0c0c0"/>
<rect x="784" y="659" width="1" height="81" fill="#c0c0c0"/>
<rect x="792" y="659" width="1" height="80" fill="#c0c0c0"/>
<rect x="800" y="659" width="1" height="79" fill="#c0c0c0"/>
<rect x="808" y="659" width="1" height="81" fill="#c0c0c0"/>
<rect x="816" y="659" width="1" height="76" fill="#c0c0c0"/>
<rect x="824" y="659" width="1" height="67" fill="#c0c0c0"/>
<rect x="832" y="659" width="1" height="55" fill="#c0c0c0"/>
<rect x="840" y="659" width="1" height="46" fill="#c0c0c0"/>
<rect x="848" y="659" width="1" height="37" fill="#c0c0c0"/>
<rect x="856" y="659" width="1" height="27" fill="#c0c0c0"/>
<rect x="864" y="659" width="1" height="16" fill="#c0c0c0"/>
<rect x="872" y="659" width="1" height="10" fill="#c0c0c0"/>
<rect x="880" y="659" width="1" height="1" fill="#c0c0c0"/>
<rect x="888" y="655" width="1" height="5" fill="#c0c0c0"/>
<rect x="896" y="651" width="1" height="9" fill="#c0c0c0"/>
<rect x="904" y="650" width="1" height="10" fill="#c0c0c0"/>
<rect x="912" y="650" width="1" height="10" fill="#c0c0c0"/>
<rect x="920" y="649" width="1" height="11" fill="#c0c0c0"/>
<rect x="928" y="648" width="1" height="12" fill="#c0c0c0"/>
<rect x="936" y="647" width="1" height="13" fill="#c0c0c0"/>
<rect x="944" y="647" width="1" height="13" fill="#c0c0c0"/>
<rect x="952" y="646" width="1" height="14" fill="#c0c0c0"/>
<rect x="960" y="641" width="1" height="19" fill="#c0c0c0"/>
<rect x="968" y="634" width="1" height="26" fill="#c0c0c0"/>
<rect x="976" y="629" width="1" height="31" fill="#c0c0c0"/>
<rect x="984" y="625" width="1" height="35" fill="#c0c0c0"/>
<rect x="992" y="623" width="1" height="37" fill="#c0c0c0"/>
<rect x="1000" y="624" width="1" height="36" fill="#c0c0c0"/>
<rect x="1008" y="625" width="1" height="35" fill="#c0c0c0"/>
<rect x="1016" y="617" width="1" height="43" fill="#c0c0c0"/>
<rect x="1024" y="611" width="1" height="49" fill="#c0c0c0"/>
<rect x="1032" y="607" width="1" height="53" fill="#c0c0c0"/>
<rect x="1040" y="605" width="1" height="55" fill="#c0c0c0"/>
<rect x="1048" y="605" width="1" height="55" fill="#c0c0c0"/>
<rect x="1056" y="604" width="1" height="56" fill="#c0c0c0"/>
<rect x="1064" y="604" width="1" height="56" fill="#c0c0c0"/>
<rect x="1072" y="602" width="1" height="58" fill="#c0c0c0"/>
<rect x="1080" y="600" width="1" height="60" fill="#c0c0c0"/>
<rect x="1088" y="598" width="1" height="62" fill="#c0c0c0"/>
<rect x="1096" y="596" width="1" height="64" fill="#c0c0c0"/>
<rect x="1104" y="591" width="1" height="69" fill="#c0c0c0"/>
<rect x="1112" y="588" width="1" height="72" fill="#c0c0c0"/>
<rect x="1120" y="587" width="1" height="73" fill="#c0c0c0"/>
<rect x="1128" y="587" width="1" height="73" fill="#c0c0c0"/>
<rect x="1136" y="589" width="1" height="71" fill="#c0c0c0"/>
<rect x="1144" y="590" width="1" height="70" fill="#c0c0c0"/>
<rect x="1152" y="593" width="1" height="67" fill="#c0c0c0"/>
<rect x="1160" y="601" width="1" height="59" fill="#c0c0c0"/>
<rect x="1168" y="610" width="1" height="50" fill="#c0c0c0"/>
<rect x="1176" y="618" width="1" height="42" fill="#c0c0c0"/>
<rect x="1184" y="623" width="1" height="37" fill="#c0c0c0"/>
<rect x="1192" y="626" width="1" height="34" fill="#c0c0c0"/>
<rect x="1200" y="631" width="1" height="29" fill="#c0c0c0"/>
<rect x="1208" y="637" width="1" height="23" fill="#c0c0c0"/>
<rect x="1216" y="641" width="1" height="19" fill="#c0c0c0"/>
<rect x="1224" y="644" width="1" height="16" fill="#c0c0c0"/>
<rect x="1232" y="647" width="1" height="13" fill="#c0c0c0"/>
<rect x="1240" y="646" width="1" height="14" fill="#c0c0c0"/>
<rect x="1248" y="644" width="1" height="16" fill="#c0c0c0"/>
<rect x="1256" y="645" width="1" height="15" fill="#c0c0c0"/>
<rect x="1264" y="645" width="1" height="15" fill="#c0c0c0"/>
<rect x="1272" y="645" width="1" height="15" fill="#c0c0c0"/>
<rect x="1280" y="644" width="1" height="16" fill="#c0c0c0"/>
<rect x="1288" y="643" width="1" height="17" fill="#c0c0c0"/>
<rect x="1296" y="643" width="1" height="17" fill="#c0c0c0"/>
<rect x="1304" y="644" width="1" height="16" fill="#c0c0c0"/>
<rect x="1312" y="649" width="1" height="11" fill="#c0c0c0"/>
<rect x="1320" y="653" width="1" height="7" fill="#c0c0c0"/>
<rect x="1328" y="656" width="1" height="4" fill="#c0c0c0"/>
<rect x="1336" y="654" width="1" height="6" fill="#c0c0c0"/>
<rect x="1344" y="653" width="1" height="7" fill="#c0c0c0"/>
<rect x="1352" y="652" width="1" height="8" fill="#c0c0c0"/>
<rect x="1360" y="651" width="1" height="9" fill="#c0c0c0"/>
<rect x="1368" y="651" width="1" height="9" fill="#c0c0c0"/>
<rect x="1376" y="652" width="1" height="8" fill="#c0c0c0"/>
<rect x="1384" y="653" width="1" height="7" fill="#c0c0c0"/>
<rect x="1392" y="654" width="1" height="6" fill="#c0c0c0"/>
<rect x="1400" y="659" width="1" height="3" fill="#c0c0c0"/>
<rect x="1408" y="659" width="1" height="5" fill="#c0c0c0"/>
<rect x="1416" y="659" width="1" height="8" fill="#c0c0c0"/>
<rect x="1424" y="659" width="1" height="11" fill="#c0c0c0"/>
<rect x="1432" y="659" width="1" height="12" fill="#c0c0c0"/>
<rect x="1440" y="659" width="1" height="14" fill="#c0c0c0"/>
<rect x="1448" y="659" width="1" height="17" fill="#c0c0c0"/>
<rect x="1456" y="659" width="1" height="20" fill="#c0c0c0"/>
<rect x="1464" y="659" width="1" height="21" fill="#c0c0c0"/>
</g>
<polyline points="0.0,674.3 16.7,677.7 33.3,680.3 50.0,681.7 66.7,685.0 83.3,689.3 100.0,691.3 116.7,692.7 133.3,693.0 150.0,693.3 166.7,696.0 183.3,700.0 200.0,703.7 216.7,703.3 233.3,699.3 250.0,689.3 266.7,677.0 283.3,666.7 293.3,662.0 306.7,658.7 330.0,658.0 346.7,661.0 360.0,666.0 376.7,670.3 393.3,674.3 410.0,677.0 430.0,679.3 446.7,677.0 460.0,670.3 473.3,662.0 486.7,654.3 500.0,645.3 516.7,636.0 533.3,634.3 550.0,635.3 560.0,638.3 576.7,644.3 593.3,649.3 610.0,653.3 626.7,654.7 643.3,655.0 660.0,657.0 676.7,659.3 693.3,664.3 710.0,672.7 726.7,681.0 743.3,694.3 760.0,707.0 776.7,717.7 793.3,727.7 803.3,732.0 816.7,735.0 826.7,735.0 836.7,732.7 850.0,725.0 863.3,714.3 876.7,701.0 893.3,682.7 906.7,669.3 920.0,661.0 926.7,656.0 943.3,651.0 960.0,647.0 976.7,642.7 993.3,637.7 1010.0,632.7 1026.7,623.7 1043.3,616.7 1060.0,611.0 1076.7,606.7 1093.3,602.0 1100.0,601.0 1113.3,597.7 1126.7,594.3 1140.0,591.7 1153.3,590.3 1166.7,592.0 1180.0,596.7 1193.3,604.3 1206.7,612.0 1220.0,621.0 1233.3,629.3 1246.7,636.0 1260.0,640.3 1273.3,643.7 1293.3,644.3 1313.3,644.3 1333.3,647.0 1353.3,648.7 1366.7,650.0 1383.3,653.3 1400.0,652.0 1413.3,652.7 1426.7,656.0 1440.0,660.3 1453.3,665.3 1464.3,670.3" fill="none" stroke="#ff0000" stroke-width="1" stroke-dasharray="3 2"/>
<g shape-rendering="crispEdges">
<line x1="0" y1="785.5" x2="1650" y2="785.5" stroke="#c0c0c0" stroke-width="1" stroke-dasharray="3 3"/>
<line x1="0" y1="836.5" x2="1650" y2="836.5" stroke="#c0c0c0" stroke-width="1" stroke-dasharray="3 3"/>
<line x1="0" y1="897.5" x2="1650" y2="897.5" stroke="#c0c0c0" stroke-width="1" stroke-dasharray="3 3"/>
</g>
<polyline points="0.5,846.7 8.5,845.3 16.5,851.0 24.5,849.0 32.5,852.7 40.5,855.0 48.5,863.3 56.5,855.0 64.5,853.0 72.5,856.3 80.5,850.3 88.5,857.3 96.5,842.3 104.5,859.3 112.5,849.0 120.5,850.0 128.5,852.3 136.5,852.3 144.5,855.7 152.5,863.3 160.5,867.3 168.5,867.3 176.5,862.3 184.5,865.3 192.5,869.0 200.5,846.7 208.5,832.0 216.5,834.0 224.5,837.3 232.5,829.3 240.5,826.3 248.5,827.3 256.5,829.3 264.5,827.3 272.5,817.3 280.5,823.3 288.5,829.3 296.5,851.0 304.5,849.0 312.5,847.3 320.5,848.3 328.5,847.0 336.5,835.7 344.5,849.3 352.5,846.3 360.5,846.7 368.5,851.0 376.5,853.3 384.5,858.3 392.5,855.0 400.5,846.0 408.5,844.3 416.5,848.0 424.5,849.3 432.5,830.0 440.5,821.7 448.5,808.3 456.5,806.0 464.5,812.0 472.5,817.3 480.5,830.0 488.5,818.3 496.5,819.3 504.5,818.3 512.5,815.3 520.5,830.0 528.5,835.3 536.5,836.7 544.5,848.0 552.5,850.3 560.5,844.3 568.5,837.3 576.5,829.3 584.5,832.3 592.5,830.3 600.5,831.3 608.5,840.0 616.5,846.0 624.5,826.3 632.5,835.0 640.5,843.3 648.5,841.0 656.5,837.3 664.5,847.3 672.5,846.7 680.5,855.0 688.5,859.0 696.5,860.3 704.5,862.3 712.5,871.0 720.5,872.7 728.5,878.3 736.5,882.3 744.5,881.3 752.5,880.7 760.5,886.0 768.5,888.3 776.5,890.3 784.5,880.7 792.5,877.3 800.5,880.3 808.5,882.3 816.5,875.0 824.5,840.0 832.5,832.0 840.5,834.3 848.5,835.3 856.5,825.3 864.5,816.7 872.5,826.3 880.5,821.3 888.5,819.3 896.5,824.0 904.5,831.0 912.5,833.3 920.5,829.3 928.5,827.3 936.5,826.3 944.5,830.3 952.5,827.3 960.5,814.3 968.5,805.3 976.5,808.3 984.5,807.3 992.5,807.3 1000.5,824.3 1008.5,822.3 1016.5,801.3 1024.5,801.3 1032.5,802.3 1040.5,806.0 1048.5,807.3 1056.5,805.3 1064.5,804.0 1072.5,798.3 1080.5,799.3 1088.5,794.3 1096.5,792.0 1104.5,787.3 1112.5,787.3 1120.5,788.3 1128.5,788.3 1136.5,804.0 1144.5,797.3 1152.5,804.3 1160.5,826.7 1168.5,836.0 1176.5,834.3 1184.5,833.3 1192.5,825.3 1200.5,834.0 1208.5,840.3 1216.5,837.3 1224.5,837.3 1232.5,836.7 1240.5,827.3 1248.5,819.3 1256.5,833.3 1264.5,827.3 1272.5,829.3 1280.5,825.3 1288.5,818.3 1296.5,826.3 1304.5,834.3 1312.5,845.3 1320.5,844.0 1328.5,843.3 1336.5,827.3 1344.5,827.3 1352.5,826.0 1360.5,824.0 1368.5,826.7 1376.5,830.0 1384.5,831.0 1392.5,833.3 1400.5,857.3 1408.5,855.3 1416.5,858.3 1424.5,857.3 1432.5,858.3 1440.5,851.7 1448.5,862.3 1456.5,864.3 1464.5,864.3" fill="none" stroke="#1e90ff" stroke-width="1" shape-rendering="crispEdges"/>
<rect x="1651" y="44" width="2" height="1" fill="#000" shape-rendering="crispEdges"/>
<text class="s" x="1656.5" y="48.3" font-size="10" fill="#000" text-anchor="start" font-weight="normal" textLength="32.5" lengthAdjust="spacingAndGlyphs" stroke="#000" stroke-width="0.2">1.39865</text>
<rect x="1651" y="77" width="2" height="1" fill="#000" shape-rendering="crispEdges"/>
<text class="s" x="1656.5" y="81.3" font-size="10" fill="#000" text-anchor="start" font-weight="normal" textLength="32.5" lengthAdjust="spacingAndGlyphs" stroke="#000" stroke-width="0.2">1.39600</text>
<rect x="1651" y="110" width="2" height="1" fill="#000" shape-rendering="crispEdges"/>
<text class="s" x="1656.5" y="114.3" font-size="10" fill="#000" text-anchor="start" font-weight="normal" textLength="32.5" lengthAdjust="spacingAndGlyphs" stroke="#000" stroke-width="0.2">1.39335</text>
<rect x="1651" y="143" width="2" height="1" fill="#000" shape-rendering="crispEdges"/>
<text class="s" x="1656.5" y="147.3" font-size="10" fill="#000" text-anchor="start" font-weight="normal" textLength="32.5" lengthAdjust="spacingAndGlyphs" stroke="#000" stroke-width="0.2">1.39070</text>
<rect x="1651" y="176" width="2" height="1" fill="#000" shape-rendering="crispEdges"/>
<text class="s" x="1656.5" y="180.3" font-size="10" fill="#000" text-anchor="start" font-weight="normal" textLength="32.5" lengthAdjust="spacingAndGlyphs" stroke="#000" stroke-width="0.2">1.38800</text>
<rect x="1651" y="242" width="2" height="1" fill="#000" shape-rendering="crispEdges"/>
<text class="s" x="1656.5" y="246.3" font-size="10" fill="#000" text-anchor="start" font-weight="normal" textLength="32.5" lengthAdjust="spacingAndGlyphs" stroke="#000" stroke-width="0.2">1.38270</text>
<rect x="1651" y="275" width="2" height="1" fill="#000" shape-rendering="crispEdges"/>
<text class="s" x="1656.5" y="279.3" font-size="10" fill="#000" text-anchor="start" font-weight="normal" textLength="32.5" lengthAdjust="spacingAndGlyphs" stroke="#000" stroke-width="0.2">1.38005</text>
<rect x="1651" y="308" width="2" height="1" fill="#000" shape-rendering="crispEdges"/>
<text class="s" x="1656.5" y="312.3" font-size="10" fill="#000" text-anchor="start" font-weight="normal" textLength="32.5" lengthAdjust="spacingAndGlyphs" stroke="#000" stroke-width="0.2">1.37740</text>
<rect x="1651" y="341" width="2" height="1" fill="#000" shape-rendering="crispEdges"/>
<text class="s" x="1656.5" y="345.3" font-size="10" fill="#000" text-anchor="start" font-weight="normal" textLength="32.5" lengthAdjust="spacingAndGlyphs" stroke="#000" stroke-width="0.2">1.37475</text>
<rect x="1651" y="374" width="2" height="1" fill="#000" shape-rendering="crispEdges"/>
<text class="s" x="1656.5" y="378.3" font-size="10" fill="#000" text-anchor="start" font-weight="normal" textLength="32.5" lengthAdjust="spacingAndGlyphs" stroke="#000" stroke-width="0.2">1.37210</text>
<rect x="1651" y="407" width="2" height="1" fill="#000" shape-rendering="crispEdges"/>
<text class="s" x="1656.5" y="411.3" font-size="10" fill="#000" text-anchor="start" font-weight="normal" textLength="32.5" lengthAdjust="spacingAndGlyphs" stroke="#000" stroke-width="0.2">1.36945</text>
<rect x="1651" y="440" width="2" height="1" fill="#000" shape-rendering="crispEdges"/>
<text class="s" x="1656.5" y="444.3" font-size="10" fill="#000" text-anchor="start" font-weight="normal" textLength="32.5" lengthAdjust="spacingAndGlyphs" stroke="#000" stroke-width="0.2">1.36680</text>
<rect x="1651" y="473" width="2" height="1" fill="#000" shape-rendering="crispEdges"/>
<text class="s" x="1656.5" y="477.3" font-size="10" fill="#000" text-anchor="start" font-weight="normal" textLength="32.5" lengthAdjust="spacingAndGlyphs" stroke="#000" stroke-width="0.2">1.36415</text>
<rect x="1651" y="506" width="2" height="1" fill="#000" shape-rendering="crispEdges"/>
<text class="s" x="1656.5" y="510.3" font-size="10" fill="#000" text-anchor="start" font-weight="normal" textLength="32.5" lengthAdjust="spacingAndGlyphs" stroke="#000" stroke-width="0.2">1.36150</text>
<rect x="1651" y="539" width="2" height="1" fill="#000" shape-rendering="crispEdges"/>
<text class="s" x="1656.5" y="543.3" font-size="10" fill="#000" text-anchor="start" font-weight="normal" textLength="32.5" lengthAdjust="spacingAndGlyphs" stroke="#000" stroke-width="0.2">1.35885</text>
<rect x="1651" y="572" width="2" height="1" fill="#000" shape-rendering="crispEdges"/>
<text class="s" x="1656.5" y="576.3" font-size="10" fill="#000" text-anchor="start" font-weight="normal" textLength="32.5" lengthAdjust="spacingAndGlyphs" stroke="#000" stroke-width="0.2">1.35620</text>
<rect x="1652" y="159" width="41" height="11" fill="#ff0000" shape-rendering="crispEdges"/>
<text class="s" x="1656.5" y="168.3" font-size="10" fill="#fff" text-anchor="start" font-weight="normal" textLength="32.5" lengthAdjust="spacingAndGlyphs">1.38890</text>
<rect x="1652" y="183" width="41" height="11" fill="#ff4500" shape-rendering="crispEdges"/>
<text class="s" x="1656.5" y="192.3" font-size="10" fill="#fff" text-anchor="start" font-weight="normal" textLength="32.5" lengthAdjust="spacingAndGlyphs">1.38698</text>
<rect x="1652" y="203" width="41" height="11" fill="#32cd32" shape-rendering="crispEdges"/>
<text class="s" x="1656.5" y="212.3" font-size="10" fill="#fff" text-anchor="start" font-weight="normal" textLength="32.5" lengthAdjust="spacingAndGlyphs">1.38537</text>
<rect x="1652" y="215" width="41" height="11" fill="#000000" shape-rendering="crispEdges"/>
<text class="s" x="1656.5" y="224.3" font-size="10" fill="#fff" text-anchor="start" font-weight="normal" textLength="32.5" lengthAdjust="spacingAndGlyphs">1.38454</text>
<rect x="1652" y="233" width="41" height="11" fill="#0000ff" shape-rendering="crispEdges"/>
<text class="s" x="1656.5" y="242.3" font-size="10" fill="#fff" text-anchor="start" font-weight="normal" textLength="32.5" lengthAdjust="spacingAndGlyphs">1.38297</text>
<rect x="1652" y="252" width="41" height="11" fill="#0000ff" shape-rendering="crispEdges"/>
<text class="s" x="1656.5" y="261.3" font-size="10" fill="#fff" text-anchor="start" font-weight="normal" textLength="32.5" lengthAdjust="spacingAndGlyphs">1.38144</text>
<rect x="1645.5" y="163.5" width="4" height="4" fill="#fff" stroke="#ff0000" stroke-width="1" shape-rendering="crispEdges"/>
<rect x="1645.5" y="187.5" width="4" height="4" fill="#fff" stroke="#ff4500" stroke-width="1" shape-rendering="crispEdges"/>
<rect x="1645.5" y="207.5" width="4" height="4" fill="#fff" stroke="#32cd32" stroke-width="1" shape-rendering="crispEdges"/>
<rect x="1645.5" y="237.5" width="4" height="4" fill="#fff" stroke="#0000ff" stroke-width="1" shape-rendering="crispEdges"/>
<rect x="1645.5" y="256.5" width="4" height="4" fill="#fff" stroke="#0000ff" stroke-width="1" shape-rendering="crispEdges"/>
<text class="s" x="1654" y="588" font-size="10" fill="#000" text-anchor="start" font-weight="normal" textLength="37" lengthAdjust="spacingAndGlyphs" stroke="#000" stroke-width="0.2">0.005455</text>
<rect x="1651" y="659" width="3" height="1" fill="#000" shape-rendering="crispEdges"/>
<text class="s" x="1656.5" y="663" font-size="10" fill="#000" text-anchor="start" font-weight="normal" textLength="18" lengthAdjust="spacingAndGlyphs" stroke="#000" stroke-width="0.2">0.00</text>
<text class="s" x="1654" y="743.5" font-size="10" fill="#000" text-anchor="start" font-weight="normal" textLength="41" lengthAdjust="spacingAndGlyphs" stroke="#000" stroke-width="0.2">-0.005938</text>
<text class="s" x="1654" y="759.8" font-size="10" fill="#000" text-anchor="start" font-weight="normal" textLength="15" lengthAdjust="spacingAndGlyphs" stroke="#000" stroke-width="0.2">100</text>
<text class="s" x="1654" y="788.8" font-size="10" fill="#000" text-anchor="start" font-weight="normal" textLength="10" lengthAdjust="spacingAndGlyphs" stroke="#000" stroke-width="0.2">80</text>
<text class="s" x="1654" y="839.8" font-size="10" fill="#000" text-anchor="start" font-weight="normal" textLength="10" lengthAdjust="spacingAndGlyphs" stroke="#000" stroke-width="0.2">50</text>
<text class="s" x="1654" y="900.8" font-size="10" fill="#000" text-anchor="start" font-weight="normal" textLength="10" lengthAdjust="spacingAndGlyphs" stroke="#000" stroke-width="0.2">15</text>
<text class="s" x="1654" y="919.5" font-size="10" fill="#000" text-anchor="start" font-weight="normal" textLength="5" lengthAdjust="spacingAndGlyphs" stroke="#000" stroke-width="0.2">0</text>
<rect x="1651" y="785" width="2" height="1" fill="#000" shape-rendering="crispEdges"/>
<rect x="1651" y="836" width="2" height="1" fill="#000" shape-rendering="crispEdges"/>
<rect x="1651" y="897" width="2" height="1" fill="#000" shape-rendering="crispEdges"/>
<text class="s" x="-9.2" y="935.6" font-size="10" fill="#000" text-anchor="start" font-weight="normal" textLength="50" lengthAdjust="spacingAndGlyphs" stroke="#000" stroke-width="0.2">28 Jun 2021</text>
<rect x="56" y="924" width="1" height="3" fill="#000" shape-rendering="crispEdges"/>
<text class="s" x="54.8" y="935.6" font-size="10" fill="#000" text-anchor="start" font-weight="normal" textLength="52.5" lengthAdjust="spacingAndGlyphs" stroke="#000" stroke-width="0.2">29 Jun 12:00</text>
<rect x="120" y="924" width="1" height="3" fill="#000" shape-rendering="crispEdges"/>
<text class="s" x="118.8" y="935.6" font-size="10" fill="#000" text-anchor="start" font-weight="normal" textLength="52.5" lengthAdjust="spacingAndGlyphs" stroke="#000" stroke-width="0.2">30 Jun 20:00</text>
<rect x="184" y="924" width="1" height="3" fill="#000" shape-rendering="crispEdges"/>
<text class="s" x="182.8" y="935.6" font-size="10" fill="#000" text-anchor="start" font-weight="normal" textLength="44.5" lengthAdjust="spacingAndGlyphs" stroke="#000" stroke-width="0.2">2 Jul 04:00</text>
<rect x="248" y="924" width="1" height="3" fill="#000" shape-rendering="crispEdges"/>
<text class="s" x="246.8" y="935.6" font-size="10" fill="#000" text-anchor="start" font-weight="normal" textLength="44.5" lengthAdjust="spacingAndGlyphs" stroke="#000" stroke-width="0.2">5 Jul 12:00</text>
<rect x="312" y="924" width="1" height="3" fill="#000" shape-rendering="crispEdges"/>
<text class="s" x="310.8" y="935.6" font-size="10" fill="#000" text-anchor="start" font-weight="normal" textLength="44.5" lengthAdjust="spacingAndGlyphs" stroke="#000" stroke-width="0.2">6 Jul 20:00</text>
<rect x="376" y="924" width="1" height="3" fill="#000" shape-rendering="crispEdges"/>
<text class="s" x="374.8" y="935.6" font-size="10" fill="#000" text-anchor="start" font-weight="normal" textLength="44.5" lengthAdjust="spacingAndGlyphs" stroke="#000" stroke-width="0.2">8 Jul 04:00</text>
<rect x="440" y="924" width="1" height="3" fill="#000" shape-rendering="crispEdges"/>
<text class="s" x="438.8" y="935.6" font-size="10" fill="#000" text-anchor="start" font-weight="normal" textLength="44.5" lengthAdjust="spacingAndGlyphs" stroke="#000" stroke-width="0.2">9 Jul 12:00</text>
<rect x="504" y="924" width="1" height="3" fill="#000" shape-rendering="crispEdges"/>
<text class="s" x="502.8" y="935.6" font-size="10" fill="#000" text-anchor="start" font-weight="normal" textLength="49.5" lengthAdjust="spacingAndGlyphs" stroke="#000" stroke-width="0.2">12 Jul 20:00</text>
<rect x="568" y="924" width="1" height="3" fill="#000" shape-rendering="crispEdges"/>
<text class="s" x="566.8" y="935.6" font-size="10" fill="#000" text-anchor="start" font-weight="normal" textLength="49.5" lengthAdjust="spacingAndGlyphs" stroke="#000" stroke-width="0.2">14 Jul 04:00</text>
<rect x="632" y="924" width="1" height="3" fill="#000" shape-rendering="crispEdges"/>
<text class="s" x="630.8" y="935.6" font-size="10" fill="#000" text-anchor="start" font-weight="normal" textLength="49.5" lengthAdjust="spacingAndGlyphs" stroke="#000" stroke-width="0.2">15 Jul 12:00</text>
<rect x="696" y="924" width="1" height="3" fill="#000" shape-rendering="crispEdges"/>
<text class="s" x="694.8" y="935.6" font-size="10" fill="#000" text-anchor="start" font-weight="normal" textLength="49.5" lengthAdjust="spacingAndGlyphs" stroke="#000" stroke-width="0.2">18 Jul 23:00</text>
<rect x="760" y="924" width="1" height="3" fill="#000" shape-rendering="crispEdges"/>
<text class="s" x="758.8" y="935.6" font-size="10" fill="#000" text-anchor="start" font-weight="normal" textLength="49.5" lengthAdjust="spacingAndGlyphs" stroke="#000" stroke-width="0.2">20 Jul 04:00</text>
<rect x="824" y="924" width="1" height="3" fill="#000" shape-rendering="crispEdges"/>
<text class="s" x="822.8" y="935.6" font-size="10" fill="#000" text-anchor="start" font-weight="normal" textLength="49.5" lengthAdjust="spacingAndGlyphs" stroke="#000" stroke-width="0.2">21 Jul 12:00</text>
<rect x="888" y="924" width="1" height="3" fill="#000" shape-rendering="crispEdges"/>
<text class="s" x="886.8" y="935.6" font-size="10" fill="#000" text-anchor="start" font-weight="normal" textLength="49.5" lengthAdjust="spacingAndGlyphs" stroke="#000" stroke-width="0.2">22 Jul 20:00</text>
<rect x="952" y="924" width="1" height="3" fill="#000" shape-rendering="crispEdges"/>
<text class="s" x="950.8" y="935.6" font-size="10" fill="#000" text-anchor="start" font-weight="normal" textLength="49.5" lengthAdjust="spacingAndGlyphs" stroke="#000" stroke-width="0.2">26 Jul 04:00</text>
<rect x="1016" y="924" width="1" height="3" fill="#000" shape-rendering="crispEdges"/>
<text class="s" x="1014.8" y="935.6" font-size="10" fill="#000" text-anchor="start" font-weight="normal" textLength="49.5" lengthAdjust="spacingAndGlyphs" stroke="#000" stroke-width="0.2">27 Jul 12:00</text>
<rect x="1080" y="924" width="1" height="3" fill="#000" shape-rendering="crispEdges"/>
<text class="s" x="1078.8" y="935.6" font-size="10" fill="#000" text-anchor="start" font-weight="normal" textLength="49.5" lengthAdjust="spacingAndGlyphs" stroke="#000" stroke-width="0.2">28 Jul 20:00</text>
<rect x="1144" y="924" width="1" height="3" fill="#000" shape-rendering="crispEdges"/>
<text class="s" x="1142.8" y="935.6" font-size="10" fill="#000" text-anchor="start" font-weight="normal" textLength="49.5" lengthAdjust="spacingAndGlyphs" stroke="#000" stroke-width="0.2">30 Jul 04:00</text>
<rect x="1208" y="924" width="1" height="3" fill="#000" shape-rendering="crispEdges"/>
<text class="s" x="1206.8" y="935.6" font-size="10" fill="#000" text-anchor="start" font-weight="normal" textLength="51" lengthAdjust="spacingAndGlyphs" stroke="#000" stroke-width="0.2">2 Aug 12:00</text>
<rect x="1272" y="924" width="1" height="3" fill="#000" shape-rendering="crispEdges"/>
<text class="s" x="1270.8" y="935.6" font-size="10" fill="#000" text-anchor="start" font-weight="normal" textLength="51" lengthAdjust="spacingAndGlyphs" stroke="#000" stroke-width="0.2">3 Aug 20:00</text>
<rect x="1336" y="924" width="1" height="3" fill="#000" shape-rendering="crispEdges"/>
<text class="s" x="1334.8" y="935.6" font-size="10" fill="#000" text-anchor="start" font-weight="normal" textLength="51" lengthAdjust="spacingAndGlyphs" stroke="#000" stroke-width="0.2">5 Aug 04:00</text>
<rect x="1400" y="924" width="1" height="3" fill="#000" shape-rendering="crispEdges"/>
<text class="s" x="1398.8" y="935.6" font-size="10" fill="#000" text-anchor="start" font-weight="normal" textLength="51" lengthAdjust="spacingAndGlyphs" stroke="#000" stroke-width="0.2">6 Aug 12:00</text>
<rect x="1464" y="924" width="1" height="3" fill="#000" shape-rendering="crispEdges"/>
<text class="s" x="1462.8" y="935.6" font-size="10" fill="#000" text-anchor="start" font-weight="normal" textLength="51" lengthAdjust="spacingAndGlyphs" stroke="#000" stroke-width="0.2">9 Aug 20:00</text>
<polygon points="-1,33 3,33 1,30" fill="#000"/>
<text class="s" x="7" y="34" font-size="10" fill="#000" text-anchor="start" font-weight="normal" textLength="204" lengthAdjust="spacingAndGlyphs" stroke="#000" stroke-width="0.2">GBPUSD-,H4&#160;&#160;1.38455 1.38485 1.38430 1.38454</text>
<text class="s" x="-2" y="590" font-size="10" fill="#000" text-anchor="start" font-weight="normal" textLength="152" lengthAdjust="spacingAndGlyphs" stroke="#000" stroke-width="0.2">MACD(12,26,9) -0.001494 -0.000770</text>
<text class="s" x="-2" y="761.5" font-size="10" fill="#000" text-anchor="start" font-weight="normal" textLength="66" lengthAdjust="spacingAndGlyphs" stroke="#000" stroke-width="0.2">RSI(14) 34.0846</text>
<rect x="393.5" y="130.5" width="61" height="18" fill="#fff" stroke="#ff0000" stroke-width="1" shape-rendering="crispEdges"/>
<text class="s" x="396" y="146.2" font-size="17" fill="#ff0000" text-anchor="start" font-weight="normal" textLength="57" lengthAdjust="spacingAndGlyphs">1.39104</text>
<g shape-rendering="crispEdges">
<rect x="455" y="139" width="10" height="1" fill="#ff0000"/>
</g>
<rect x="1081.5" y="41.5" width="61" height="18" fill="#fff" stroke="#ff0000" stroke-width="1" shape-rendering="crispEdges"/>
<text class="s" x="1084" y="57.2" font-size="17" fill="#ff0000" text-anchor="start" font-weight="normal" textLength="57" lengthAdjust="spacingAndGlyphs">1.39818</text>
<g shape-rendering="crispEdges">
<rect x="1143" y="49" width="10" height="1" fill="#ff0000"/>
</g>
<rect x="705.5" y="552.5" width="61" height="18" fill="#fff" stroke="#ff0000" stroke-width="1" shape-rendering="crispEdges"/>
<text class="s" x="708" y="568.2" font-size="17" fill="#ff0000" text-anchor="start" font-weight="normal" textLength="57" lengthAdjust="spacingAndGlyphs">1.35706</text>
<g shape-rendering="crispEdges">
<rect x="767" y="561" width="10" height="1" fill="#ff0000"/>
</g>
<rect x="1275.5" y="197.5" width="73" height="24" fill="#fff" stroke="#ff0000" stroke-width="1" shape-rendering="crispEdges"/>
<text class="s" x="1277.8" y="218" font-size="22.6" fill="#ff0000" text-anchor="start" font-weight="normal" textLength="69.5" lengthAdjust="spacingAndGlyphs">1.38537</text>
<g shape-rendering="crispEdges">
<rect x="1265" y="209" width="7" height="1" fill="#ff0000"/>
<rect x="1272.5" y="207.5" width="3" height="3" fill="#fff" stroke="#ff0000"/>
</g>
<rect x="1376" y="204" width="117" height="8" fill="#00ff00" shape-rendering="crispEdges"/>
<line x1="1311.5" y1="96.0" x2="1477.5" y2="219.5" stroke="#ff0000" stroke-width="3"/>
<polygon points="1485.5,225.5 1472.9,222.3 1478.9,214.3" fill="#ff0000"/>
<line x1="1359.5" y1="646.0" x2="1471.3" y2="677.1" stroke="#ff0000" stroke-width="3"/>
<polygon points="1480.0,679.5 1468.2,680.9 1470.6,672.2" fill="#ff0000"/>
<line x1="1340.5" y1="832.0" x2="1461.2" y2="857.6" stroke="#ff0000" stroke-width="3"/>
<polygon points="1470.0,859.5 1458.3,861.6 1460.2,852.8" fill="#ff0000"/>
<rect x="1537.5" y="197.5" width="110" height="24" fill="none" stroke="#303030" stroke-width="1" shape-rendering="crispEdges"/>
<rect x="1590.5" y="194.5" width="3" height="3" fill="#fff" stroke="#32cd32" stroke-width="1" shape-rendering="crispEdges"/>
<text class="cs" x="1538.4" y="216.6" font-size="20.7" fill="#00ff00" text-anchor="start" textLength="108.3" lengthAdjust="spacing">多空转折点</text>
<polygon points="1461,23 1472,23 1466.5,28.5" fill="#c0c0c0"/>

<g id="panel">
<defs>
<linearGradient id="gb" x1="0" y1="0" x2="0" y2="1"><stop offset="0" stop-color="#f24a4f"/><stop offset="1" stop-color="#d4262a"/></linearGradient>
<linearGradient id="gp" x1="0" y1="0" x2="0" y2="1"><stop offset="0" stop-color="#dc2a2a"/><stop offset="0.55" stop-color="#c81616"/><stop offset="1" stop-color="#a80404"/></linearGradient>
<linearGradient id="gs" x1="0" y1="0" x2="0" y2="1"><stop offset="0" stop-color="#f4f4f4"/><stop offset="1" stop-color="#d8d8d8"/></linearGradient>
</defs>
<rect x="0" y="42" width="214" height="57" fill="#fff"/>
<rect x="0" y="42" width="46" height="25" fill="url(#gb)"/>
<rect x="163" y="42" width="51" height="25" fill="url(#gb)"/>
<rect x="0" y="66" width="104" height="33" fill="url(#gp)"/>
<rect x="106" y="66" width="108" height="33" fill="url(#gp)"/>
<rect x="0" y="65.5" width="43" height="1" fill="#f07070"/>
<rect x="166" y="65.5" width="44" height="1" fill="#f07070"/>
<rect x="49.5" y="42.5" width="110" height="21" fill="#fff" stroke="#b4b4b4"/>
<rect x="51" y="44" width="19" height="18" fill="url(#gs)" stroke="#c8c8c8" stroke-width="0.6"/>
<rect x="139" y="44" width="19" height="18" fill="url(#gs)" stroke="#c8c8c8" stroke-width="0.6"/>
<polygon points="57,51 62,51 59.5,54.5" fill="#5560c0"/>
<polygon points="146,54.5 151,54.5 148.5,51" fill="#5560c0"/>
<text class="s" x="134.6" y="57.5" font-size="12.5" text-anchor="end" fill="#000">1.00</text>
<text class="s" x="7" y="58" font-size="12" fill="#fff" textLength="26" lengthAdjust="spacingAndGlyphs">SELL</text>
<text class="s" x="175" y="58" font-size="12" fill="#fff" textLength="24" lengthAdjust="spacingAndGlyphs">BUY</text>
<text class="s" x="15" y="93.5" font-size="10.5" font-weight="bold" fill="#fff" textLength="24" lengthAdjust="spacingAndGlyphs">1.38</text>
<text class="s" x="42" y="93.5" font-size="33" fill="#fff" textLength="35" lengthAdjust="spacingAndGlyphs">45</text>
<text class="s" x="81.7" y="77.8" font-size="11" font-weight="bold" fill="#fff" textLength="7" lengthAdjust="spacingAndGlyphs">4</text>
<text class="s" x="125" y="93.5" font-size="10.5" font-weight="bold" fill="#fff" textLength="24" lengthAdjust="spacingAndGlyphs">1.38</text>
<text class="s" x="152.5" y="93.5" font-size="33" fill="#fff" textLength="35" lengthAdjust="spacingAndGlyphs">48</text>
<text class="s" x="192.7" y="77.8" font-size="11" font-weight="bold" fill="#fff" textLength="7" lengthAdjust="spacingAndGlyphs">8</text>
</g>

<g id="toolbar">
<defs><clipPath id="tbclip"><rect x="0" y="0" width="1697" height="18"/></clipPath><linearGradient id="gold" x1="0" y1="0" x2="1" y2="1"><stop offset="0" stop-color="#f6d774"/><stop offset="1" stop-color="#c8901c"/></linearGradient><linearGradient id="cloud" x1="0" y1="0" x2="0" y2="1"><stop offset="0" stop-color="#ffffff"/><stop offset="1" stop-color="#b8cce8"/></linearGradient><radialGradient id="lens" cx="0.4" cy="0.35" r="0.7"><stop offset="0" stop-color="#e8f4ff"/><stop offset="1" stop-color="#7fb4e8"/></radialGradient><radialGradient id="badge" cx="0.4" cy="0.3" r="0.8"><stop offset="0" stop-color="#f05030"/><stop offset="1" stop-color="#c81808"/></radialGradient></defs>
<rect x="0" y="0" width="1697" height="18" fill="#f0f0f0"/>
<rect x="0" y="18" width="1697" height="1" fill="#bcbcbc"/>
<rect x="0" y="19" width="1697" height="1" fill="#747474"/>
<rect x="0" y="20" width="1697" height="2" fill="#ffffff"/>
<g clip-path="url(#tbclip)">
<rect x="287" y="0" width="25" height="17" fill="#ffffff"/>
<rect x="287" y="0" width="24" height="16" fill="#f7f7f7"/>
<rect x="286.5" y="-1" width="1" height="17" fill="#a0a0a0"/>
<rect x="437" y="0" width="27" height="17" fill="#ffffff"/>
<rect x="437" y="0" width="26" height="16" fill="#f7f7f7"/>
<rect x="436.5" y="-1" width="1" height="17" fill="#a0a0a0"/>
<rect x="467" y="0" width="27" height="17" fill="#ffffff"/>
<rect x="467" y="0" width="26" height="16" fill="#f7f7f7"/>
<rect x="466.5" y="-1" width="1" height="17" fill="#a0a0a0"/>
<rect x="626" y="0" width="25" height="17" fill="#ffffff"/>
<rect x="626" y="0" width="24" height="16" fill="#f7f7f7"/>
<rect x="625.5" y="-1" width="1" height="17" fill="#a0a0a0"/>
<rect x="1072" y="0" width="26" height="17" fill="#ffffff"/>
<rect x="1072" y="0" width="25" height="16" fill="#f7f7f7"/>
<rect x="1071.5" y="-1" width="1" height="17" fill="#a0a0a0"/>
<rect x="11" y="0" width="1" height="16" fill="#a8a8a8"/>
<rect x="342" y="0" width="1" height="16" fill="#a8a8a8"/>
<rect x="432" y="0" width="1" height="16" fill="#a8a8a8"/>
<rect x="494" y="0" width="1" height="16" fill="#a8a8a8"/>
<rect x="682" y="0" width="1" height="16" fill="#a8a8a8"/>
<rect x="248" y="0" width="1" height="18" fill="#c4c4c4"/>
<rect x="251" y="0" width="3" height="1" fill="#b0b0b0"/>
<rect x="251" y="2" width="3" height="1" fill="#b0b0b0"/>
<rect x="251" y="4" width="3" height="1" fill="#b0b0b0"/>
<rect x="251" y="6" width="3" height="1" fill="#b0b0b0"/>
<rect x="251" y="8" width="3" height="1" fill="#b0b0b0"/>
<rect x="251" y="10" width="3" height="1" fill="#b0b0b0"/>
<rect x="251" y="12" width="3" height="1" fill="#b0b0b0"/>
<rect x="251" y="14" width="3" height="1" fill="#b0b0b0"/>
<rect x="616" y="0" width="1" height="18" fill="#c4c4c4"/>
<rect x="619" y="0" width="3" height="1" fill="#b0b0b0"/>
<rect x="619" y="2" width="3" height="1" fill="#b0b0b0"/>
<rect x="619" y="4" width="3" height="1" fill="#b0b0b0"/>
<rect x="619" y="6" width="3" height="1" fill="#b0b0b0"/>
<rect x="619" y="8" width="3" height="1" fill="#b0b0b0"/>
<rect x="619" y="10" width="3" height="1" fill="#b0b0b0"/>
<rect x="619" y="12" width="3" height="1" fill="#b0b0b0"/>
<rect x="619" y="14" width="3" height="1" fill="#b0b0b0"/>
<rect x="922" y="0" width="1" height="18" fill="#c4c4c4"/>
<rect x="925" y="0" width="3" height="1" fill="#b0b0b0"/>
<rect x="925" y="2" width="3" height="1" fill="#b0b0b0"/>
<rect x="925" y="4" width="3" height="1" fill="#b0b0b0"/>
<rect x="925" y="6" width="3" height="1" fill="#b0b0b0"/>
<rect x="925" y="8" width="3" height="1" fill="#b0b0b0"/>
<rect x="925" y="10" width="3" height="1" fill="#b0b0b0"/>
<rect x="925" y="12" width="3" height="1" fill="#b0b0b0"/>
<rect x="925" y="14" width="3" height="1" fill="#b0b0b0"/>
<rect x="1182" y="0" width="1" height="16" fill="#a8a8a8"/>
<path d="M-1,9 L3.5,15" stroke="#d8a020" stroke-width="2.6" stroke-linecap="round"/>
<path d="M21.5,-2 h8 l3,3 v10.5 h-11 z" fill="#fdfdfd" stroke="#8a8a8a" stroke-width="1"/>
<path d="M23.5,3.5 h6 M23.5,6.5 h4" stroke="#9a9a9a" stroke-width="1"/>
<path d="M29.3,4.5 h3.4 v3.8 h3.8 v3.4 h-3.8 v3.8 h-3.4 v-3.8 h-3.8 v-3.4 h3.8 z" fill="#2ecc2e" stroke="#128a12" stroke-width="0.9"/>
<text class="c" x="40" y="9" font-size="11.9" fill="#1a1a1a" stroke="#1a1a1a" stroke-width="0.4" textLength="35.7" lengthAdjust="spacing">新订单</text>
<text class="c" x="192.6" y="9" font-size="11.8" fill="#1a1a1a" stroke="#1a1a1a" stroke-width="0.4" textLength="47.2" lengthAdjust="spacing">自动交易</text>
<path d="M94,-2 L104,5.5 L97,13.5 L88,7 z" fill="url(#gold)" stroke="#a87812" stroke-width="0.9"/>
<path d="M88.5,8 L97,14.3 L104,6.5" fill="none" stroke="#8a6210" stroke-width="1.2"/>
<rect x="118.5" y="-2" width="10.5" height="10" fill="#4aa0e8" stroke="#2a70c0" stroke-width="0.8"/>
<path d="M121,1.5 h6 M121,4 h6" stroke="#d8ecff" stroke-width="1"/>
<path d="M119.5,13.2 a3.2,3.2 0 0 1 0.6,-6.3 a4,4 0 0 1 7.2,-0.6 a3.4,3.4 0 0 1 1.8,6.9 z" fill="url(#cloud)" stroke="#5f82b8" stroke-width="0.9"/>
<g fill="none" stroke="#4a90d8" stroke-width="1.3"><circle cx="152" cy="6" r="7.3" stroke="#9cc4ec"/><circle cx="152" cy="6" r="4.6"/><circle cx="152" cy="6" r="1.6" fill="#2a60c0"/></g>
<path d="M152,6 v8.5 a8.5,8.5 0 0 0 7.5,-5" fill="none" stroke="#3cb43c" stroke-width="2.2"/>
<path d="M172.5,3 h14 l-5,7.5 v3 h-4 v-3 z" fill="#f4c830" stroke="#c89a10" stroke-width="0.9"/>
<ellipse cx="179.5" cy="1.5" rx="7.5" ry="2.6" fill="#58a8e0" stroke="#2a78c0" stroke-width="0.8"/>
<circle cx="183.3" cy="10.2" r="4" fill="#e02818" stroke="#a81408" stroke-width="0.7"/>
<rect x="181.6" y="8.5" width="3.4" height="3.4" fill="#fff"/>
<path d="M265.5,-1 V14 M262,11.5 H275.5" stroke="#505050" stroke-width="1.4" fill="none"/>
<path d="M274,9.5 l2.5,2 l-2.5,2 z" fill="#505050"/>
<path d="M271.5,1.5 V9.5 M271.5,2.5 h2.6 M271.5,8.5 h-2.6" stroke="#22a022" stroke-width="1.6" fill="none"/>
<path d="M293.5,-1 V14 M290,11.5 H303.5" stroke="#505050" stroke-width="1.4" fill="none"/>
<path d="M302,9.5 l2.5,2 l-2.5,2 z" fill="#505050"/>
<rect x="297.3" y="-1" width="4.2" height="8.5" fill="#2eb82e" stroke="#168a16" stroke-width="0.8"/><path d="M299.4,7.5 v2.5" stroke="#168a16" stroke-width="1.2"/>
<path d="M321.5,-1 V14 M318,11.5 H331.5" stroke="#505050" stroke-width="1.4" fill="none"/>
<path d="M330,9.5 l2.5,2 l-2.5,2 z" fill="#505050"/>
<path d="M320,9 C323,5 326,1.5 328,3 S331,7 332.5,7.8" fill="none" stroke="#22a022" stroke-width="1.4"/>
<path d="M361,8.2 L366,13.2" stroke="#d8a820" stroke-width="3" stroke-linecap="round"/>
<circle cx="357" cy="4.4" r="5.3" fill="url(#lens)" stroke="#3a80d0" stroke-width="1.4"/>
<path d="M354,4.4 h6 M357,1.4 v6" stroke="#2a6cc8" stroke-width="1.6"/>
<path d="M389,8.2 L394,13.2" stroke="#d8a820" stroke-width="3" stroke-linecap="round"/>
<circle cx="385" cy="4.4" r="5.3" fill="url(#lens)" stroke="#3a80d0" stroke-width="1.4"/>
<path d="M382,4.4 h6" stroke="#2a6cc8" stroke-width="1.6"/>
<rect x="407" y="-1" width="7.5" height="6.5" fill="#38a838"/>
<rect x="408.3" y="0.5" width="4.9" height="1.5" fill="#e8f0ff"/>
<rect x="415.5" y="-1" width="7.5" height="6.5" fill="#2858c8"/>
<rect x="416.8" y="0.5" width="4.9" height="1.5" fill="#e8f0ff"/>
<rect x="407" y="7" width="7.5" height="6.5" fill="#2858c8"/>
<rect x="408.3" y="8.5" width="4.9" height="1.5" fill="#e8f0ff"/>
<rect x="415.5" y="7" width="7.5" height="6.5" fill="#38a838"/>
<rect x="416.8" y="8.5" width="4.9" height="1.5" fill="#e8f0ff"/>
<path d="M445.5,-1 V14 M442,11.5 H455.5" stroke="#505050" stroke-width="1.4" fill="none"/>
<path d="M454,9.5 l2.5,2 l-2.5,2 z" fill="#505050"/>
<path d="M450.3,2.3 l4.4,3.2 l-4.4,3.2 z" fill="#d8f8d8" stroke="#22a022" stroke-width="1.2"/>
<path d="M473.5,-1 V14 M470,11.5 H483.5" stroke="#505050" stroke-width="1.4" fill="none"/>
<path d="M482,9.5 l2.5,2 l-2.5,2 z" fill="#505050"/>
<rect x="478.7" y="-1" width="1.2" height="11" fill="#2858c8"/>
<path d="M485,5.6 h-4 M483,3.6 l-2.6,2 l2.6,2" stroke="#e03010" stroke-width="1.2" fill="none"/>
<path d="M504.5,-2 h8 l3,3 v10.5 h-11 z" fill="#fdfdfd" stroke="#8a8a8a" stroke-width="1"/>
<path d="M506.5,3.5 h6 M506.5,6.5 h4" stroke="#9a9a9a" stroke-width="1"/>
<path d="M512.3,4.5 h3.4 v3.8 h3.8 v3.4 h-3.8 v3.8 h-3.4 v-3.8 h-3.8 v-3.4 h3.8 z" fill="#2ecc2e" stroke="#128a12" stroke-width="0.9"/>
<path d="M526,5.2 h5.4 l-2.7,3 z" fill="#000"/>
<path d="M564.6,5.2 h5.4 l-2.7,3 z" fill="#000"/>
<path d="M603.5,5.2 h5.4 l-2.7,3 z" fill="#000"/>
<path d="M910,5.2 h5.4 l-2.7,3 z" fill="#000"/>
<circle cx="550" cy="5.8" r="7.2" fill="#f4f8ff" stroke="#2a68d0" stroke-width="2.2"/>
<path d="M550,1.5 v4.5 h3.4" stroke="#404040" stroke-width="1.1" fill="none"/>
<rect x="581.5" y="-2" width="15" height="14.3" fill="#fff" stroke="#3a78d0" stroke-width="1.2"/>
<rect x="581.5" y="-2" width="15" height="3.2" fill="#4a88e0"/>
<path d="M583.5,5 l3,-1 l3,0.6 l3,-1.6 l2,0.4" stroke="#c03018" stroke-width="1.1" fill="none"/>
<path d="M583.5,10 l3,-1.6 l3,1 l2.4,-2 l2.6,1.6" stroke="#22a022" stroke-width="1.1" fill="none"/>
<path d="M633,-2 L633,10.2 L635.8,7.6 L638.2,12.6 L640,11.8 L637.7,6.9 L641.3,6.7 z" fill="#404040"/>
<path d="M665.5,-1 V14 M658,6.5 H673" stroke="#404040" stroke-width="1.1"/><rect x="664" y="5" width="3" height="3" fill="#f0f0f0"/>
<rect x="665" y="6" width="1" height="1" fill="#606060"/>
<path d="M665.5,-1 V4.5 M665.5,8.5 V14 M658,6.5 H663.5 M667.5,6.5 H673" stroke="#404040" stroke-width="1.1"/>
<path d="M699.5,-1 V12.7 M722,6.5 H734 M750,12.7 L762,1" stroke="#505050" stroke-width="1.2" fill="none"/>
<g stroke="#505050" stroke-width="1" fill="none"><path d="M776.5,8 L788,0 M778.5,12.5 L790,3.5"/><path d="M779.5,5.5 l1.5,6 M782.5,3.5 l1.5,6 M785.5,1.5 l1.5,6"/></g>
<text class="s" x="787" y="14.6" font-size="6.5" font-weight="bold" fill="#404040">E</text>
<g stroke="#505050" stroke-width="1" stroke-dasharray="1 1"><path d="M805,2.5 H818 M805,6.5 H818 M805,10.5 H814"/></g>
<text class="s" x="815" y="14.6" font-size="6.5" font-weight="bold" fill="#404040">F</text>
<text class="s" x="835.3" y="10.8" font-size="12" fill="#505050">A</text>
<rect x="862.5" y="-0.5" width="11" height="13" fill="none" stroke="#505050" stroke-width="1" stroke-dasharray="1 1"/>
<text class="s" x="864.3" y="10.6" font-size="11.5" fill="#505050">T</text>
<path d="M892.5,-1 l3,3 l-3,3 l-3,-3 z M899.5,6.5 l3,3 l-3,3 l-3,-3 z" fill="#404040"/>
<path d="M890,7 l2.5,2.5 l5,-6" stroke="#404040" stroke-width="1.5" fill="none"/>
<text class="s" x="936.5" y="10" font-size="9.7" fill="#404040" textLength="12.8" lengthAdjust="spacingAndGlyphs">M1</text>
<text class="s" x="964.5" y="10" font-size="9.7" fill="#404040" textLength="12.9" lengthAdjust="spacingAndGlyphs">M5</text>
<text class="s" x="990.6" y="10" font-size="9.7" fill="#404040" textLength="17.6" lengthAdjust="spacingAndGlyphs">M15</text>
<text class="s" x="1018.6" y="10" font-size="9.7" fill="#404040" textLength="17.7" lengthAdjust="spacingAndGlyphs">M30</text>
<text class="s" x="1049.5" y="10" font-size="9.7" fill="#404040" textLength="11.5" lengthAdjust="spacingAndGlyphs">H1</text>
<text class="s" x="1076.4" y="10" font-size="9.7" fill="#404040" textLength="12.6" lengthAdjust="spacingAndGlyphs">H4</text>
<text class="s" x="1105.6" y="10" font-size="9.7" fill="#404040" textLength="11.5" lengthAdjust="spacingAndGlyphs">D1</text>
<text class="s" x="1132.8" y="10" font-size="9.7" fill="#404040" textLength="14.5" lengthAdjust="spacingAndGlyphs">W1</text>
<text class="s" x="1159.5" y="10" font-size="9.7" fill="#404040" textLength="14.9" lengthAdjust="spacingAndGlyphs">MN</text>
<path d="M1645,10.5 L1650,5.5" stroke="#2a58d0" stroke-width="2.4" stroke-linecap="round"/>
<circle cx="1652.3" cy="3" r="3.6" fill="#f8fbff" stroke="#2a58d0" stroke-width="1.5"/>
<path d="M1670,8 a6.5,4.8 0 1 1 4.5,4.6 l-2.6,1.8 l0.6,-2.6 a6,4.6 0 0 1 -2.5,-3.8 z" fill="#eef0f4" stroke="#c0c4cc" stroke-width="0.8"/>
<circle cx="1683.3" cy="3" r="8.6" fill="url(#badge)"/>
<text class="r" x="1679.2" y="8" font-size="14" font-weight="bold" fill="#fff">1</text>
</g></g>
</svg>
</body></html>
